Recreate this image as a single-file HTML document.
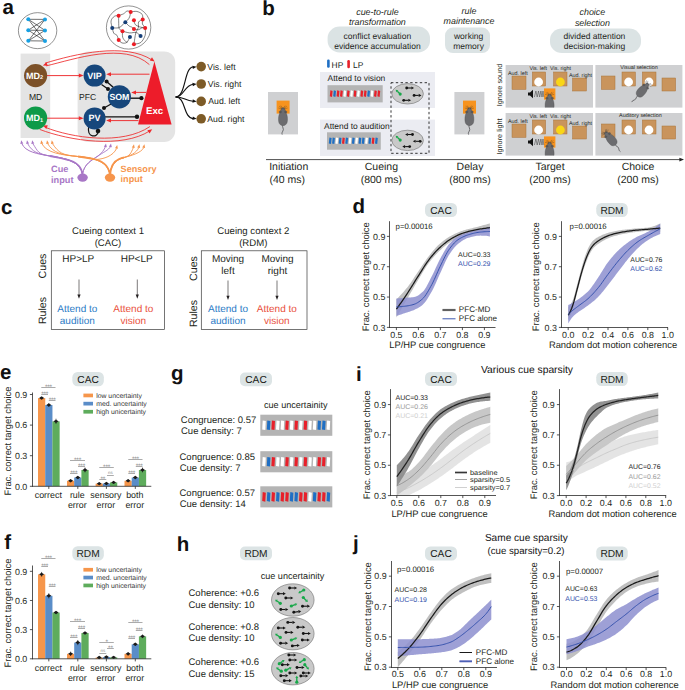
<!DOCTYPE html>
<html lang="en"><head><meta charset="utf-8"><title>Figure</title>
<style>html,body{margin:0;padding:0;background:#fff;}body{width:685px;height:690px;overflow:hidden;font-family:"Liberation Sans",sans-serif;}svg{display:block;}</style></head>
<body>
<svg width="685" height="690" viewBox="0 0 685 690" font-family='"Liberation Sans", sans-serif' text-rendering="geometricPrecision">
<rect width="685" height="690" fill="#ffffff"/>
<text x="2.50" y="14.20" font-size="20.5" fill="#111" font-weight="bold" >a</text>
<ellipse cx="37.6" cy="30.65" rx="19.2" ry="18.0" fill="#fff" stroke="#4a4a4a" stroke-width="0.6"/>
<line x1="28.30" y1="19.30" x2="45.00" y2="19.40" stroke="#111" stroke-width="0.6" />
<line x1="28.30" y1="19.30" x2="45.00" y2="30.40" stroke="#111" stroke-width="0.6" />
<line x1="28.30" y1="19.30" x2="45.00" y2="41.00" stroke="#111" stroke-width="0.6" />
<line x1="28.30" y1="30.20" x2="45.00" y2="19.40" stroke="#111" stroke-width="0.6" />
<line x1="28.30" y1="30.20" x2="45.00" y2="30.40" stroke="#111" stroke-width="0.6" />
<line x1="28.30" y1="30.20" x2="45.00" y2="41.00" stroke="#111" stroke-width="0.6" />
<line x1="28.30" y1="40.80" x2="45.00" y2="19.40" stroke="#111" stroke-width="0.6" />
<line x1="28.30" y1="40.80" x2="45.00" y2="30.40" stroke="#111" stroke-width="0.6" />
<line x1="28.30" y1="40.80" x2="45.00" y2="41.00" stroke="#111" stroke-width="0.6" />
<circle cx="28.3" cy="19.3" r="2.0" fill="#18a0e2"/>
<circle cx="28.3" cy="30.2" r="2.0" fill="#18a0e2"/>
<circle cx="28.3" cy="40.8" r="2.0" fill="#18a0e2"/>
<circle cx="45.0" cy="19.4" r="2.0" fill="#18a0e2"/>
<circle cx="45.0" cy="30.4" r="2.0" fill="#18a0e2"/>
<circle cx="45.0" cy="41.0" r="2.0" fill="#18a0e2"/>
<ellipse cx="128.6" cy="27.5" rx="22.2" ry="21.6" fill="#fff" stroke="#4a4a4a" stroke-width="0.6"/>
<path d="M112.26,27.90 C112.06,26.74 110.70,22.87 111.04,20.95 C111.38,19.02 113.05,17.24 114.31,16.35 C115.57,15.46 117.88,15.75 118.60,15.63" stroke="#1c1c1c" fill="none" stroke-width="0.55" />
<path d="M118.60,15.63 C119.42,15.33 122.09,14.56 123.50,13.80 C124.92,13.03 125.89,11.34 127.08,11.04 C128.27,10.73 130.06,11.80 130.66,11.96" stroke="#1c1c1c" fill="none" stroke-width="0.55" />
<path d="M130.66,11.96 C131.68,11.87 134.88,11.05 136.79,11.44 C138.69,11.84 141.11,12.98 142.10,14.31 C143.09,15.63 142.61,18.56 142.71,19.42" stroke="#1c1c1c" fill="none" stroke-width="0.55" />
<path d="M118.60,15.63 C118.62,16.69 118.60,19.81 118.70,21.97 C118.80,24.13 118.58,27.08 119.21,28.61 C119.84,30.15 121.94,30.74 122.48,31.17" stroke="#1c1c1c" fill="none" stroke-width="0.55" />
<path d="M112.26,27.90 C113.28,27.88 116.78,28.19 118.39,27.79 C120.01,27.40 120.81,26.48 121.97,25.55 C123.13,24.61 124.78,22.74 125.34,22.17" stroke="#1c1c1c" fill="none" stroke-width="0.55" />
<path d="M130.66,11.96 C130.49,12.77 130.11,15.53 129.63,16.86 C129.16,18.19 128.51,19.04 127.79,19.93 C127.08,20.81 125.75,21.80 125.34,22.17" stroke="#1c1c1c" fill="none" stroke-width="0.55" />
<path d="M125.34,22.17 C125.97,22.82 128.07,25.24 129.12,26.06 C130.18,26.88 130.88,26.57 131.68,27.08 C132.48,27.59 133.55,28.78 133.93,29.12" stroke="#1c1c1c" fill="none" stroke-width="0.55" />
<path d="M133.93,20.13 C134.15,20.86 134.35,23.42 135.25,24.52 C136.16,25.63 137.69,26.18 139.34,26.77 C140.99,27.37 144.20,27.88 145.17,28.10" stroke="#1c1c1c" fill="none" stroke-width="0.55" />
<path d="M142.71,19.42 C142.03,19.84 139.34,20.61 138.63,21.97 C137.91,23.33 138.87,25.89 138.42,27.59 C137.98,29.29 136.58,30.32 135.97,32.19 C135.36,34.06 135.08,36.82 134.74,38.83 C134.40,40.84 134.06,43.34 133.93,44.25" stroke="#1c1c1c" fill="none" stroke-width="0.55" />
<path d="M142.71,19.42 C142.66,20.18 142.20,22.91 142.41,24.01 C142.61,25.12 143.48,25.38 143.94,26.06 C144.40,26.74 144.96,27.76 145.17,28.10" stroke="#1c1c1c" fill="none" stroke-width="0.55" />
<path d="M145.17,28.10 C145.17,29.29 145.88,32.87 145.17,35.25 C144.45,37.64 142.75,40.91 140.87,42.41 C139.00,43.91 135.08,43.94 133.93,44.25" stroke="#1c1c1c" fill="none" stroke-width="0.55" />
<path d="M122.48,31.17 C123.67,31.46 127.33,32.68 129.63,32.90 C131.93,33.13 134.45,31.97 136.28,32.50 C138.10,33.02 139.85,35.48 140.57,36.07" stroke="#1c1c1c" fill="none" stroke-width="0.55" />
<path d="M122.48,31.17 C122.52,32.19 122.17,35.60 122.69,37.30 C123.20,39.00 124.73,40.59 125.55,41.39 C126.36,42.19 127.25,41.98 127.59,42.10" stroke="#1c1c1c" fill="none" stroke-width="0.55" />
<path d="M112.26,27.90 C112.52,28.78 113.03,31.98 113.80,33.21 C114.56,34.44 116.04,34.11 116.86,35.25 C117.68,36.40 118.39,39.26 118.70,40.06" stroke="#1c1c1c" fill="none" stroke-width="0.55" />
<path d="M118.70,40.06 C119.25,40.53 120.62,42.53 121.97,42.92 C123.32,43.31 125.44,43.40 126.77,42.41 C128.10,41.42 129.41,37.89 129.94,36.99" stroke="#1c1c1c" fill="none" stroke-width="0.55" />
<path d="M133.93,29.12 C134.74,29.21 137.50,29.86 138.83,29.63 C140.16,29.41 140.84,28.05 141.90,27.79 C142.95,27.54 144.62,28.05 145.17,28.10" stroke="#1c1c1c" fill="none" stroke-width="0.55" />
<circle cx="118.60" cy="15.63" r="2.0" fill="#ed1c24"/>
<circle cx="130.66" cy="11.96" r="2.0" fill="#ed1c24"/>
<circle cx="133.93" cy="20.13" r="2.0" fill="#ed1c24"/>
<circle cx="142.71" cy="19.42" r="2.0" fill="#ed1c24"/>
<circle cx="145.17" cy="28.10" r="2.0" fill="#ed1c24"/>
<circle cx="133.93" cy="29.12" r="2.0" fill="#ed1c24"/>
<circle cx="122.48" cy="31.17" r="2.0" fill="#ed1c24"/>
<circle cx="118.70" cy="40.06" r="2.0" fill="#ed1c24"/>
<circle cx="133.93" cy="44.25" r="2.0" fill="#ed1c24"/>
<circle cx="125.34" cy="22.17" r="2.0" fill="#163f78"/>
<circle cx="112.26" cy="27.90" r="2.0" fill="#163f78"/>
<circle cx="129.94" cy="36.99" r="2.0" fill="#163f78"/>
<circle cx="140.57" cy="36.07" r="2.0" fill="#163f78"/>
<rect x="20.6" y="53.6" width="29.6" height="84.4" fill="#e4e4e4"/>
<rect x="77.6" y="51.4" width="97.6" height="90.6" rx="11" fill="#e4e4e4"/>
<text x="35.60" y="100.00" font-size="8.6" text-anchor="middle" fill="#231f20" >MD</text>
<text x="87.60" y="100.20" font-size="8.6" text-anchor="middle" fill="#231f20" >PFC</text>
<path d="M45.0,63.2 C75,54 125,42 152.3,60.2" stroke="#ee2a2c" fill="none" stroke-width="0.85" />
<path d="M46.2,65.9 C75,59 124,41.8 149.4,64.6" stroke="#ee2a2c" fill="none" stroke-width="0.85" />
<path d="M42.80,65.60 L46.47,62.24 L47.77,65.81Z" stroke="none" fill="#ee2a2c" stroke-width="0.7" />
<path d="M154.60,61.60 L149.76,60.43 L152.00,57.36Z" stroke="none" fill="#ee2a2c" stroke-width="0.7" />
<path d="M45.0,127.2 C72,138 122,145.5 149.9,126.6" stroke="#ee2a2c" fill="none" stroke-width="0.85" />
<path d="M39.6,129.4 C70,141 122,148.5 149.6,131.0" stroke="#ee2a2c" fill="none" stroke-width="0.85" />
<path d="M42.80,125.40 L47.78,125.36 L46.35,128.88Z" stroke="none" fill="#ee2a2c" stroke-width="0.7" />
<path d="M152.20,129.20 L149.60,133.44 L147.36,130.37Z" stroke="none" fill="#ee2a2c" stroke-width="0.7" />
<line x1="47.00" y1="75.60" x2="79.30" y2="75.60" stroke="#ee2a2c" stroke-width="0.95" />
<path d="M83.60,75.60 L78.80,77.60 L78.80,73.60Z" stroke="none" fill="#ee2a2c" stroke-width="0.7" />
<line x1="47.00" y1="118.20" x2="79.30" y2="118.20" stroke="#ee2a2c" stroke-width="0.95" />
<path d="M83.60,118.20 L78.80,120.20 L78.80,116.20Z" stroke="none" fill="#ee2a2c" stroke-width="0.7" />
<line x1="149.50" y1="74.20" x2="110.50" y2="74.20" stroke="#ee2a2c" stroke-width="0.95" />
<path d="M106.20,74.20 L111.00,72.20 L111.00,76.20Z" stroke="none" fill="#ee2a2c" stroke-width="0.7" />
<line x1="146.00" y1="92.40" x2="135.50" y2="92.40" stroke="#ee2a2c" stroke-width="0.95" />
<path d="M131.20,92.40 L136.00,90.40 L136.00,94.40Z" stroke="none" fill="#ee2a2c" stroke-width="0.7" />
<line x1="138.50" y1="120.60" x2="110.50" y2="120.60" stroke="#ee2a2c" stroke-width="0.95" />
<path d="M106.20,120.60 L111.00,118.60 L111.00,122.60Z" stroke="none" fill="#ee2a2c" stroke-width="0.7" />
<line x1="129.00" y1="98.20" x2="141.00" y2="98.20" stroke="#111" stroke-width="1.35" />
<circle cx="141.4" cy="98.2" r="2.1" fill="#111"/>
<line x1="104.00" y1="116.80" x2="137.00" y2="116.80" stroke="#111" stroke-width="1.35" />
<circle cx="137.0" cy="116.8" r="2.2" fill="#111"/>
<line x1="101.50" y1="84.50" x2="108.00" y2="89.00" stroke="#111" stroke-width="1.35" />
<circle cx="108.0" cy="89.0" r="2.0" fill="#111"/>
<line x1="106.60" y1="81.40" x2="113.50" y2="87.50" stroke="#111" stroke-width="1.35" />
<circle cx="106.6" cy="81.4" r="2.0" fill="#111"/>
<line x1="112.00" y1="103.50" x2="104.00" y2="108.00" stroke="#111" stroke-width="1.35" />
<circle cx="104.0" cy="108.0" r="2.0" fill="#111"/>
<path d="M88.6,126.8 C87.0,137.8 97.2,138.2 98.4,131.6" stroke="#111" fill="none" stroke-width="1.2" />
<circle cx="98.0" cy="131.0" r="2.3" fill="#111"/>
<circle cx="35.60" cy="75.60" r="11.60" fill="#7c5128"/>
<text x="34.60" y="78.60" font-size="9.0" font-weight="bold" fill="#fff" text-anchor="middle">MD<tspan font-size="5.58" dy="0.6">2</tspan></text>
<circle cx="35.60" cy="118.00" r="11.60" fill="#0e9a48"/>
<text x="34.60" y="121.00" font-size="9.0" font-weight="bold" fill="#fff" text-anchor="middle">MD<tspan font-size="5.58" dy="0.6">1</tspan></text>
<circle cx="94.60" cy="75.60" r="11.00" fill="#17477c"/>
<text x="94.60" y="78.60" font-size="9.0" text-anchor="middle" fill="#ffffff" font-weight="bold" >VIP</text>
<circle cx="119.40" cy="96.80" r="11.60" fill="#17477c"/>
<text x="119.40" y="99.80" font-size="8.8" text-anchor="middle" fill="#ffffff" font-weight="bold" >SOM</text>
<circle cx="94.60" cy="118.40" r="11.00" fill="#17477c"/>
<text x="94.60" y="121.40" font-size="9.0" text-anchor="middle" fill="#ffffff" font-weight="bold" >PV</text>
<path d="M154.4,61.6 L171.6,124.4 L138.0,124.4Z" stroke="none" fill="#ed1c2a" stroke-width="0.7" />
<text x="154.60" y="113.60" font-size="9.7" text-anchor="middle" fill="#fff" font-weight="bold" >Exc</text>
<path d="M175.6,97 C186,97 184,67.5 193,67.0" stroke="#111" fill="none" stroke-width="1.15" />
<path d="M175.6,97 C184,97 184,85.5 193,84.2" stroke="#111" fill="none" stroke-width="1.15" />
<path d="M175.6,97 C184,97 185,100.5 193,101.2" stroke="#111" fill="none" stroke-width="1.15" />
<path d="M175.6,97 C186,97 183,117.5 193,118.6" stroke="#111" fill="none" stroke-width="1.15" />
<path d="M196.60,66.80 L192.88,69.04 L192.40,65.67Z" stroke="none" fill="#111" stroke-width="0.7" />
<path d="M196.60,84.00 L192.88,86.24 L192.40,82.87Z" stroke="none" fill="#111" stroke-width="0.7" />
<path d="M196.60,101.40 L192.44,102.67 L192.80,99.29Z" stroke="none" fill="#111" stroke-width="0.7" />
<path d="M196.60,118.80 L192.40,119.93 L192.88,116.56Z" stroke="none" fill="#111" stroke-width="0.7" />
<circle cx="201.2" cy="66.6" r="4.8" fill="#7d5b27"/>
<text x="207.30" y="69.60" font-size="8.7" fill="#231f20" >Vis. left</text>
<circle cx="201.2" cy="84.0" r="4.8" fill="#7d5b27"/>
<text x="207.80" y="87.00" font-size="8.7" fill="#231f20" >Vis. right</text>
<circle cx="201.2" cy="101.4" r="4.8" fill="#7d5b27"/>
<text x="208.30" y="104.40" font-size="8.7" fill="#231f20" >Aud. left</text>
<circle cx="201.2" cy="118.8" r="4.8" fill="#7d5b27"/>
<text x="207.30" y="121.80" font-size="8.7" fill="#231f20" >Aud. right</text>
<ellipse cx="82.6" cy="177.6" rx="5.2" ry="4.2" fill="#a877c6"/>
<ellipse cx="110.0" cy="177.6" rx="5.2" ry="4.2" fill="#f6954c"/>
<path d="M82.6,174 C80,160 62,158 50,156 C38,154 25.2,152 21.8,143.5" stroke="#a877c6" fill="none" stroke-width="1.0" />
<path d="M21.20,140.20 L23.30,143.48 L20.35,144.01Z" stroke="none" fill="#a877c6" stroke-width="0.7" />
<path d="M82.6,174 C80,160 62,158 50,156 C38,154 32.0,152 27.6,143.5" stroke="#a877c6" fill="none" stroke-width="0.9" />
<path d="M27.00,140.20 L29.10,143.48 L26.15,144.01Z" stroke="none" fill="#a877c6" stroke-width="0.7" />
<path d="M82.6,174 C80,160 62,158 50,156 C38,154 38.2,152 32.8,143.5" stroke="#a877c6" fill="none" stroke-width="0.9" />
<path d="M32.20,140.20 L34.30,143.48 L31.35,144.01Z" stroke="none" fill="#a877c6" stroke-width="0.7" />
<path d="M82.6,176 C82.2,168 78,163 70,160.5 C64,158.6 56,157.4 50,156" stroke="#a877c6" fill="none" stroke-width="1.8" />
<path d="M82.6,174 C84,164 92,160 98,156 C102,153 104.0,150 105.5,146.5" stroke="#a877c6" fill="none" stroke-width="0.9" />
<path d="M106.00,143.40 L106.85,147.21 L103.90,146.68Z" stroke="none" fill="#a877c6" stroke-width="0.7" />
<path d="M82.6,174 C84,164 92,160 98,156 C102,153 109.0,150 110.5,146.5" stroke="#a877c6" fill="none" stroke-width="0.9" />
<path d="M111.00,143.40 L111.85,147.21 L108.90,146.68Z" stroke="none" fill="#a877c6" stroke-width="0.7" />
<path d="M110,174 C107,160 92,158 78,156.5 C62,155 46.2,153 41.8,143.5" stroke="#f6954c" fill="none" stroke-width="0.9" />
<path d="M41.20,140.20 L43.30,143.48 L40.35,144.01Z" stroke="none" fill="#f6954c" stroke-width="0.7" />
<path d="M110,174 C107,160 92,158 78,156.5 C62,155 53.0,153 47.6,143.5" stroke="#f6954c" fill="none" stroke-width="0.9" />
<path d="M47.00,140.20 L49.10,143.48 L46.15,144.01Z" stroke="none" fill="#f6954c" stroke-width="0.7" />
<path d="M110,174 C107,160 92,158 78,156.5 C62,155 58.8,153 52.4,143.5" stroke="#f6954c" fill="none" stroke-width="0.9" />
<path d="M51.80,140.20 L53.90,143.48 L50.95,144.01Z" stroke="none" fill="#f6954c" stroke-width="0.7" />
<path d="M110,176 C109.4,168 105,162 96,159.5 C90,158 84,157.2 78,156.5" stroke="#f6954c" fill="none" stroke-width="1.8" />
<path d="M96,159.5 C104,159 113,156 116.6,148.5" stroke="#f6954c" fill="none" stroke-width="0.9" />
<path d="M117.20,145.00 L117.92,148.83 L114.98,148.21Z" stroke="none" fill="#f6954c" stroke-width="0.7" />
<path d="M110,174 C111,163 118,159 124,157.5 C130,156 131.0,153 133.4,147.5" stroke="#f6954c" fill="none" stroke-width="0.9" />
<path d="M134.00,144.20 L134.72,148.03 L131.78,147.41Z" stroke="none" fill="#f6954c" stroke-width="0.7" />
<path d="M110,174 C111,163 118,159 124,157.5 C130,156 136.4,153 138.8,147.5" stroke="#f6954c" fill="none" stroke-width="0.9" />
<path d="M139.40,144.20 L140.12,148.03 L137.18,147.41Z" stroke="none" fill="#f6954c" stroke-width="0.7" />
<path d="M110,174 C111,163 118,159 124,157.5 C130,156 141.4,153 143.8,147.5" stroke="#f6954c" fill="none" stroke-width="0.9" />
<path d="M144.40,144.20 L145.12,148.03 L142.18,147.41Z" stroke="none" fill="#f6954c" stroke-width="0.7" />
<path d="M110,176 C110.4,168 113,161.5 119,159 C121,158.2 122.5,157.8 124,157.5" stroke="#f6954c" fill="none" stroke-width="1.8" />
<text x="51.00" y="172.40" font-size="9.2" fill="#a877c6" font-weight="bold" >Cue</text>
<text x="51.00" y="183.20" font-size="9.2" fill="#a877c6" font-weight="bold" >input</text>
<text x="120.60" y="171.60" font-size="9.1" fill="#f6954c" font-weight="bold" >Sensory</text>
<text x="120.60" y="182.20" font-size="9.1" fill="#f6954c" font-weight="bold" >input</text>
<text x="262.20" y="15.00" font-size="20.5" fill="#111" font-weight="bold" >b</text>
<text x="377.40" y="14.50" font-size="8.9" text-anchor="middle" fill="#231f20" font-style="italic" >cue-to-rule</text>
<text x="377.40" y="25.10" font-size="8.9" text-anchor="middle" fill="#231f20" font-style="italic" >transformation</text>
<text x="469.00" y="13.70" font-size="8.9" text-anchor="middle" fill="#231f20" font-style="italic" >rule</text>
<text x="469.00" y="24.10" font-size="8.9" text-anchor="middle" fill="#231f20" font-style="italic" >maintenance</text>
<text x="592.40" y="14.70" font-size="8.9" text-anchor="middle" fill="#231f20" font-style="italic" >choice</text>
<text x="592.40" y="25.50" font-size="8.9" text-anchor="middle" fill="#231f20" font-style="italic" >selection</text>
<rect x="327.6" y="26.6" width="102.4" height="25.8" rx="12" ry="11.5" fill="#dbe3e4"/>
<rect x="445.0" y="27.6" width="45.0" height="25.4" rx="8" fill="#dbe3e4"/>
<rect x="550.0" y="28.6" width="91.0" height="24.4" rx="12" ry="11" fill="#dbe3e4"/>
<text x="377.40" y="38.50" font-size="8.5" text-anchor="middle" fill="#231f20" >conflict evaluation</text>
<text x="377.40" y="48.70" font-size="8.5" text-anchor="middle" fill="#231f20" >evidence accumulation</text>
<text x="468.60" y="38.70" font-size="8.5" text-anchor="middle" fill="#231f20" >working</text>
<text x="468.60" y="49.10" font-size="8.5" text-anchor="middle" fill="#231f20" >memory</text>
<text x="594.40" y="39.10" font-size="8.5" text-anchor="middle" fill="#231f20" >divided attention</text>
<text x="594.40" y="49.10" font-size="8.5" text-anchor="middle" fill="#231f20" >decision-making</text>
<rect x="327.1" y="59.6" width="2.6" height="8.2" rx="1.2" fill="#1f6fc4"/>
<text x="331.60" y="67.70" font-size="8.4" fill="#231f20" >HP</text>
<rect x="347.3" y="60.0" width="2.6" height="8.2" rx="1.2" fill="#e8202a"/>
<text x="353.00" y="67.70" font-size="8.4" fill="#231f20" >LP</text>
<rect x="320.0" y="72.0" width="115.0" height="36.0" fill="#ebecf2"/>
<rect x="320.0" y="119.6" width="115.0" height="36.4" fill="#ebecf2"/>
<text x="327.60" y="81.10" font-size="8.45" fill="#231f20" >Attend to vision</text>
<text x="324.00" y="128.50" font-size="8.45" fill="#231f20" >Attend to audition</text>
<rect x="327.5" y="85.2" width="55.2" height="17.2" fill="#b4b4b4"/>
<rect x="327.0" y="132.3" width="53.8" height="17.4" fill="#b4b4b4"/>
<path d="M330.40,90.30 L332.60,90.90 L332.00,96.90 L329.80,96.30Z" fill="#e8202a"/>
<path d="M333.80,90.30 L336.00,90.90 L335.40,96.90 L333.20,96.30Z" fill="#1f6fc4"/>
<path d="M337.20,90.30 L339.40,90.90 L338.80,96.90 L336.60,96.30Z" fill="#e8202a"/>
<path d="M340.60,90.30 L342.80,90.90 L342.20,96.90 L340.00,96.30Z" fill="#e8202a"/>
<path d="M344.00,90.30 L346.20,90.90 L345.60,96.90 L343.40,96.30Z" fill="#ffffff"/>
<path d="M347.40,90.30 L349.60,90.90 L349.00,96.90 L346.80,96.30Z" fill="#e8202a"/>
<path d="M350.80,90.30 L353.00,90.90 L352.40,96.90 L350.20,96.30Z" fill="#ffffff"/>
<path d="M354.20,90.30 L356.40,90.90 L355.80,96.90 L353.60,96.30Z" fill="#e8202a"/>
<path d="M357.60,90.30 L359.80,90.90 L359.20,96.90 L357.00,96.30Z" fill="#ffffff"/>
<path d="M361.00,90.30 L363.20,90.90 L362.60,96.90 L360.40,96.30Z" fill="#e8202a"/>
<path d="M364.40,90.30 L366.60,90.90 L366.00,96.90 L363.80,96.30Z" fill="#e8202a"/>
<path d="M367.80,90.30 L370.00,90.90 L369.40,96.90 L367.20,96.30Z" fill="#1f6fc4"/>
<path d="M371.20,90.30 L373.40,90.90 L372.80,96.90 L370.60,96.30Z" fill="#ffffff"/>
<path d="M374.60,90.30 L376.80,90.90 L376.20,96.90 L374.00,96.30Z" fill="#e8202a"/>
<path d="M378.00,90.30 L380.20,90.90 L379.60,96.90 L377.40,96.30Z" fill="#e8202a"/>
<path d="M329.40,137.50 L331.60,138.10 L331.00,144.10 L328.80,143.50Z" fill="#1f6fc4"/>
<path d="M332.70,137.50 L334.90,138.10 L334.30,144.10 L332.10,143.50Z" fill="#1f6fc4"/>
<path d="M336.00,137.50 L338.20,138.10 L337.60,144.10 L335.40,143.50Z" fill="#ffffff"/>
<path d="M339.30,137.50 L341.50,138.10 L340.90,144.10 L338.70,143.50Z" fill="#1f6fc4"/>
<path d="M342.60,137.50 L344.80,138.10 L344.20,144.10 L342.00,143.50Z" fill="#e8202a"/>
<path d="M345.90,137.50 L348.10,138.10 L347.50,144.10 L345.30,143.50Z" fill="#1f6fc4"/>
<path d="M349.20,137.50 L351.40,138.10 L350.80,144.10 L348.60,143.50Z" fill="#ffffff"/>
<path d="M352.50,137.50 L354.70,138.10 L354.10,144.10 L351.90,143.50Z" fill="#1f6fc4"/>
<path d="M355.80,137.50 L358.00,138.10 L357.40,144.10 L355.20,143.50Z" fill="#ffffff"/>
<path d="M359.10,137.50 L361.30,138.10 L360.70,144.10 L358.50,143.50Z" fill="#1f6fc4"/>
<path d="M362.40,137.50 L364.60,138.10 L364.00,144.10 L361.80,143.50Z" fill="#1f6fc4"/>
<path d="M365.70,137.50 L367.90,138.10 L367.30,144.10 L365.10,143.50Z" fill="#ffffff"/>
<path d="M369.00,137.50 L371.20,138.10 L370.60,144.10 L368.40,143.50Z" fill="#1f6fc4"/>
<path d="M372.30,137.50 L374.50,138.10 L373.90,144.10 L371.70,143.50Z" fill="#e8202a"/>
<path d="M375.60,137.50 L377.80,138.10 L377.20,144.10 L375.00,143.50Z" fill="#1f6fc4"/>
<rect x="391.0" y="82.7" width="38.0" height="70.6" fill="none" stroke="#111" stroke-width="0.85" stroke-dasharray="2.4 2.4"/>
<ellipse cx="407.60" cy="93.80" rx="15.80" ry="10.20" fill="#c9c9c9" stroke="#6e6e6e" stroke-width="0.6"/>
<circle cx="406.70" cy="88.00" r="1.421" fill="#151515"/>
<line x1="406.70" y1="88.00" x2="411.31" y2="88.00" stroke="#151515" stroke-width="1.078" />
<path d="M414.05,88.00 L411.31,89.57 L411.31,86.43Z" stroke="none" fill="#151515" stroke-width="0.7" />
<circle cx="414.10" cy="95.40" r="1.421" fill="#151515"/>
<line x1="414.10" y1="95.40" x2="418.71" y2="95.40" stroke="#151515" stroke-width="1.078" />
<path d="M421.45,95.40 L418.71,96.97 L418.71,93.83Z" stroke="none" fill="#151515" stroke-width="0.7" />
<circle cx="403.70" cy="100.30" r="1.421" fill="#151515"/>
<line x1="403.70" y1="100.30" x2="408.31" y2="100.30" stroke="#151515" stroke-width="1.078" />
<path d="M411.05,100.30 L408.31,101.87 L408.31,98.73Z" stroke="none" fill="#151515" stroke-width="0.7" />
<circle cx="400.20" cy="94.10" r="1.568" fill="#19a84a"/>
<line x1="400.20" y1="94.10" x2="397.31" y2="91.31" stroke="#19a84a" stroke-width="1.323" />
<path d="M395.69,89.74 L398.33,90.25 L396.29,92.37Z" stroke="none" fill="#19a84a" stroke-width="0.7" />
<ellipse cx="407.60" cy="140.40" rx="15.80" ry="10.20" fill="#c9c9c9" stroke="#6e6e6e" stroke-width="0.6"/>
<circle cx="412.50" cy="134.50" r="1.421" fill="#151515"/>
<line x1="412.50" y1="134.50" x2="407.89" y2="134.50" stroke="#151515" stroke-width="1.078" />
<path d="M405.15,134.50 L407.89,132.93 L407.89,136.07Z" stroke="none" fill="#151515" stroke-width="0.7" />
<circle cx="420.20" cy="141.30" r="1.421" fill="#151515"/>
<line x1="420.20" y1="141.30" x2="415.59" y2="141.30" stroke="#151515" stroke-width="1.078" />
<path d="M412.85,141.30 L415.59,139.73 L415.59,142.87Z" stroke="none" fill="#151515" stroke-width="0.7" />
<circle cx="409.70" cy="146.60" r="1.421" fill="#151515"/>
<line x1="409.70" y1="146.60" x2="405.09" y2="146.60" stroke="#151515" stroke-width="1.078" />
<path d="M402.35,146.60 L405.09,145.03 L405.09,148.17Z" stroke="none" fill="#151515" stroke-width="0.7" />
<circle cx="400.20" cy="140.10" r="1.568" fill="#19a84a"/>
<line x1="400.20" y1="140.10" x2="397.31" y2="137.31" stroke="#19a84a" stroke-width="1.323" />
<path d="M395.69,135.74 L398.33,136.25 L396.29,138.37Z" stroke="none" fill="#19a84a" stroke-width="0.7" />
<rect x="268.00" y="92.0" width="30.0" height="42.4" fill="#cfd0d2"/>
<rect x="276.60" y="100.6" width="13.0" height="13.0" fill="#f7931e"/>
<g transform="translate(283.00 118.20) rotate(0) scale(1.0)">
<path d="M0,6.5 C-1.6,9 1.6,10.5 -0.2,13 C-1,14.2 -1.3,15.2 -0.8,16.4" stroke="#4a4a4c" stroke-width="0.75" fill="none"/>
<path d="M0,-10.6 C1.6,-10.4 2.4,-8 3.0,-5.6 C4.6,-3 4.8,1.5 4.2,4 C3.6,6.4 1.8,7.4 0,7.4 C-1.8,7.4 -3.6,6.4 -4.2,4 C-4.8,1.5 -4.6,-3 -3.0,-5.6 C-2.4,-8 -1.6,-10.4 0,-10.6Z" fill="#6c6c6f" stroke="#4a4a4c" stroke-width="0.35"/>
<ellipse cx="-2.7" cy="-6.3" rx="1.25" ry="1.0" fill="#5a5a5c" stroke="#4a4a4c" stroke-width="0.3"/><ellipse cx="2.7" cy="-6.3" rx="1.25" ry="1.0" fill="#5a5a5c" stroke="#4a4a4c" stroke-width="0.3"/>
<path d="M-0.7,-9.6 L-3.8,-12.0 M0.7,-9.6 L3.8,-12.0 M-0.9,-9.2 L-4.6,-10.2 M0.9,-9.2 L4.6,-10.2 M-0.5,-9.9 L-2.2,-12.6 M0.5,-9.9 L2.2,-12.6" stroke="#2a2a2a" stroke-width="0.3" fill="none"/>
</g>
<rect x="454.40" y="92.0" width="30.0" height="42.4" fill="#cfd0d2"/>
<rect x="463.00" y="100.6" width="13.0" height="13.0" fill="#f7931e"/>
<g transform="translate(469.40 118.20) rotate(0) scale(1.0)">
<path d="M0,6.5 C-1.6,9 1.6,10.5 -0.2,13 C-1,14.2 -1.3,15.2 -0.8,16.4" stroke="#4a4a4c" stroke-width="0.75" fill="none"/>
<path d="M0,-10.6 C1.6,-10.4 2.4,-8 3.0,-5.6 C4.6,-3 4.8,1.5 4.2,4 C3.6,6.4 1.8,7.4 0,7.4 C-1.8,7.4 -3.6,6.4 -4.2,4 C-4.8,1.5 -4.6,-3 -3.0,-5.6 C-2.4,-8 -1.6,-10.4 0,-10.6Z" fill="#6c6c6f" stroke="#4a4a4c" stroke-width="0.35"/>
<ellipse cx="-2.7" cy="-6.3" rx="1.25" ry="1.0" fill="#5a5a5c" stroke="#4a4a4c" stroke-width="0.3"/><ellipse cx="2.7" cy="-6.3" rx="1.25" ry="1.0" fill="#5a5a5c" stroke="#4a4a4c" stroke-width="0.3"/>
<path d="M-0.7,-9.6 L-3.8,-12.0 M0.7,-9.6 L3.8,-12.0 M-0.9,-9.2 L-4.6,-10.2 M0.9,-9.2 L4.6,-10.2 M-0.5,-9.9 L-2.2,-12.6 M0.5,-9.9 L2.2,-12.6" stroke="#2a2a2a" stroke-width="0.3" fill="none"/>
</g>
<rect x="505.6" y="65.00" width="87.4" height="42.6" fill="#cfd0d2"/>
<clipPath id="tp65"><rect x="505.6" y="65.00" width="87.4" height="42.6"/></clipPath>
<rect x="512.00" y="76.00" width="14.00" height="13.40" fill="#c9945c" stroke="#a9733a" stroke-width="0.5"/>
<rect x="532.40" y="72.00" width="13.20" height="14.00" fill="#c9945c" stroke="#a9733a" stroke-width="0.5"/>
<rect x="553.60" y="72.00" width="13.40" height="14.00" fill="#c9945c" stroke="#a9733a" stroke-width="0.5"/>
<rect x="572.60" y="78.00" width="13.80" height="13.00" fill="#c9945c" stroke="#a9733a" stroke-width="0.5"/>
<circle cx="538.6" cy="82.00" r="4.4" fill="#fff"/>
<circle cx="560.4" cy="82.00" r="4.4" fill="#f9d616"/>
<rect x="544.0" y="88.40" width="11.4" height="11.2" fill="#f7931e"/>
<path d="M528.00,92.40 L530.00,92.40 L533.00,89.80 L533.00,98.20 L530.00,95.60 L528.00,95.60Z" stroke="none" fill="#111" stroke-width="0.7" />
<path d="M534.40,97.00 L535.90,91.00 L537.20,97.00 L538.50,91.00 L539.70,97.00 L540.90,91.00 L542.00,97.00 L543.00,91.00 L543.80,97.00" stroke="#3a3a3a" fill="none" stroke-width="0.5" />
<g clip-path="url(#tp65)">
<g transform="translate(549.60 104.50) rotate(0) scale(1.0)">
<path d="M0,6.5 C-1.6,9 1.6,10.5 -0.2,13 C-1,14.2 -1.3,15.2 -0.8,16.4" stroke="#4a4a4c" stroke-width="0.75" fill="none"/>
<path d="M0,-10.6 C1.6,-10.4 2.4,-8 3.0,-5.6 C4.6,-3 4.8,1.5 4.2,4 C3.6,6.4 1.8,7.4 0,7.4 C-1.8,7.4 -3.6,6.4 -4.2,4 C-4.8,1.5 -4.6,-3 -3.0,-5.6 C-2.4,-8 -1.6,-10.4 0,-10.6Z" fill="#6c6c6f" stroke="#4a4a4c" stroke-width="0.35"/>
<ellipse cx="-2.7" cy="-6.3" rx="1.25" ry="1.0" fill="#5a5a5c" stroke="#4a4a4c" stroke-width="0.3"/><ellipse cx="2.7" cy="-6.3" rx="1.25" ry="1.0" fill="#5a5a5c" stroke="#4a4a4c" stroke-width="0.3"/>
<path d="M-0.7,-9.6 L-3.8,-12.0 M0.7,-9.6 L3.8,-12.0 M-0.9,-9.2 L-4.6,-10.2 M0.9,-9.2 L4.6,-10.2 M-0.5,-9.9 L-2.2,-12.6 M0.5,-9.9 L2.2,-12.6" stroke="#2a2a2a" stroke-width="0.3" fill="none"/>
</g>
</g>
<text x="508.00" y="74.60" font-size="5.4" fill="#231f20" >Aud. left</text>
<text x="529.40" y="70.00" font-size="5.4" fill="#231f20" >Vis. left</text>
<text x="550.00" y="70.00" font-size="5.4" fill="#231f20" >Vis. right</text>
<text x="569.00" y="76.60" font-size="5.4" fill="#231f20" >Aud. right</text>
<text x="502.40" y="85.00" font-size="7.3" text-anchor="middle" fill="#231f20" transform="rotate(-90 502.40 85.00)" >Ignore sound</text>
<rect x="505.6" y="113.00" width="87.4" height="42.6" fill="#cfd0d2"/>
<clipPath id="tp113"><rect x="505.6" y="113.00" width="87.4" height="42.6"/></clipPath>
<rect x="512.00" y="124.00" width="14.00" height="13.40" fill="#c9945c" stroke="#a9733a" stroke-width="0.5"/>
<rect x="532.40" y="120.00" width="13.20" height="14.00" fill="#c9945c" stroke="#a9733a" stroke-width="0.5"/>
<rect x="553.60" y="120.00" width="13.40" height="14.00" fill="#c9945c" stroke="#a9733a" stroke-width="0.5"/>
<rect x="572.60" y="126.00" width="13.80" height="13.00" fill="#c9945c" stroke="#a9733a" stroke-width="0.5"/>
<circle cx="538.6" cy="130.00" r="4.4" fill="#fff"/>
<circle cx="560.4" cy="130.00" r="4.4" fill="#f9d616"/>
<rect x="544.0" y="136.40" width="11.4" height="11.2" fill="#f7931e"/>
<path d="M528.00,140.40 L530.00,140.40 L533.00,137.80 L533.00,146.20 L530.00,143.60 L528.00,143.60Z" stroke="none" fill="#111" stroke-width="0.7" />
<path d="M534.40,145.00 L535.90,139.00 L537.20,145.00 L538.50,139.00 L539.70,145.00 L540.90,139.00 L542.00,145.00 L543.00,139.00 L543.80,145.00" stroke="#3a3a3a" fill="none" stroke-width="0.5" />
<g clip-path="url(#tp113)">
<g transform="translate(549.60 152.50) rotate(0) scale(1.0)">
<path d="M0,6.5 C-1.6,9 1.6,10.5 -0.2,13 C-1,14.2 -1.3,15.2 -0.8,16.4" stroke="#4a4a4c" stroke-width="0.75" fill="none"/>
<path d="M0,-10.6 C1.6,-10.4 2.4,-8 3.0,-5.6 C4.6,-3 4.8,1.5 4.2,4 C3.6,6.4 1.8,7.4 0,7.4 C-1.8,7.4 -3.6,6.4 -4.2,4 C-4.8,1.5 -4.6,-3 -3.0,-5.6 C-2.4,-8 -1.6,-10.4 0,-10.6Z" fill="#6c6c6f" stroke="#4a4a4c" stroke-width="0.35"/>
<ellipse cx="-2.7" cy="-6.3" rx="1.25" ry="1.0" fill="#5a5a5c" stroke="#4a4a4c" stroke-width="0.3"/><ellipse cx="2.7" cy="-6.3" rx="1.25" ry="1.0" fill="#5a5a5c" stroke="#4a4a4c" stroke-width="0.3"/>
<path d="M-0.7,-9.6 L-3.8,-12.0 M0.7,-9.6 L3.8,-12.0 M-0.9,-9.2 L-4.6,-10.2 M0.9,-9.2 L4.6,-10.2 M-0.5,-9.9 L-2.2,-12.6 M0.5,-9.9 L2.2,-12.6" stroke="#2a2a2a" stroke-width="0.3" fill="none"/>
</g>
</g>
<text x="508.00" y="122.60" font-size="5.4" fill="#231f20" >Aud. left</text>
<text x="529.40" y="118.00" font-size="5.4" fill="#231f20" >Vis. left</text>
<text x="550.00" y="118.00" font-size="5.4" fill="#231f20" >Vis. right</text>
<text x="569.00" y="124.60" font-size="5.4" fill="#231f20" >Aud. right</text>
<text x="502.40" y="136.50" font-size="7.3" text-anchor="middle" fill="#231f20" transform="rotate(-90 502.40 136.50)" >Ignore light</text>
<rect x="595.4" y="65.00" width="87.0" height="42.6" fill="#cfd0d2"/>
<rect x="601.40" y="76.00" width="13.60" height="13.40" fill="#c9945c" stroke="#a9733a" stroke-width="0.5"/>
<rect x="622.00" y="72.00" width="13.40" height="14.00" fill="#c9945c" stroke="#a9733a" stroke-width="0.5"/>
<rect x="642.40" y="72.00" width="13.60" height="14.00" fill="#c9945c" stroke="#a9733a" stroke-width="0.5"/>
<rect x="662.00" y="78.00" width="13.60" height="13.00" fill="#c9945c" stroke="#a9733a" stroke-width="0.5"/>
<circle cx="628.6" cy="82.00" r="4.4" fill="#fff"/>
<circle cx="649.0" cy="82.00" r="4.4" fill="#fff"/>
<g transform="translate(642.00 91.00) rotate(40) scale(0.92)">
<path d="M0,6.5 C-1.6,9 1.6,10.5 -0.2,13 C-1,14.2 -1.3,15.2 -0.8,16.4" stroke="#4a4a4c" stroke-width="0.75" fill="none"/>
<path d="M0,-10.6 C1.6,-10.4 2.4,-8 3.0,-5.6 C4.6,-3 4.8,1.5 4.2,4 C3.6,6.4 1.8,7.4 0,7.4 C-1.8,7.4 -3.6,6.4 -4.2,4 C-4.8,1.5 -4.6,-3 -3.0,-5.6 C-2.4,-8 -1.6,-10.4 0,-10.6Z" fill="#6c6c6f" stroke="#4a4a4c" stroke-width="0.35"/>
<ellipse cx="-2.7" cy="-6.3" rx="1.25" ry="1.0" fill="#5a5a5c" stroke="#4a4a4c" stroke-width="0.3"/><ellipse cx="2.7" cy="-6.3" rx="1.25" ry="1.0" fill="#5a5a5c" stroke="#4a4a4c" stroke-width="0.3"/>
<path d="M-0.7,-9.6 L-3.8,-12.0 M0.7,-9.6 L3.8,-12.0 M-0.9,-9.2 L-4.6,-10.2 M0.9,-9.2 L4.6,-10.2 M-0.5,-9.9 L-2.2,-12.6 M0.5,-9.9 L2.2,-12.6" stroke="#2a2a2a" stroke-width="0.3" fill="none"/>
</g>
<text x="639.00" y="69.10" font-size="5.4" text-anchor="middle" fill="#231f20" >Visual selection</text>
<rect x="595.4" y="113.00" width="87.0" height="42.6" fill="#cfd0d2"/>
<rect x="601.40" y="124.00" width="13.60" height="13.40" fill="#c9945c" stroke="#a9733a" stroke-width="0.5"/>
<rect x="622.00" y="120.00" width="13.40" height="14.00" fill="#c9945c" stroke="#a9733a" stroke-width="0.5"/>
<rect x="642.40" y="120.00" width="13.60" height="14.00" fill="#c9945c" stroke="#a9733a" stroke-width="0.5"/>
<rect x="662.00" y="126.00" width="13.60" height="13.00" fill="#c9945c" stroke="#a9733a" stroke-width="0.5"/>
<circle cx="628.6" cy="130.00" r="4.4" fill="#fff"/>
<circle cx="649.0" cy="130.00" r="4.4" fill="#fff"/>
<g transform="translate(611.30 139.60) rotate(-40) scale(0.92)">
<path d="M0,6.5 C-1.6,9 1.6,10.5 -0.2,13 C-1,14.2 -1.3,15.2 -0.8,16.4" stroke="#4a4a4c" stroke-width="0.75" fill="none"/>
<path d="M0,-10.6 C1.6,-10.4 2.4,-8 3.0,-5.6 C4.6,-3 4.8,1.5 4.2,4 C3.6,6.4 1.8,7.4 0,7.4 C-1.8,7.4 -3.6,6.4 -4.2,4 C-4.8,1.5 -4.6,-3 -3.0,-5.6 C-2.4,-8 -1.6,-10.4 0,-10.6Z" fill="#6c6c6f" stroke="#4a4a4c" stroke-width="0.35"/>
<ellipse cx="-2.7" cy="-6.3" rx="1.25" ry="1.0" fill="#5a5a5c" stroke="#4a4a4c" stroke-width="0.3"/><ellipse cx="2.7" cy="-6.3" rx="1.25" ry="1.0" fill="#5a5a5c" stroke="#4a4a4c" stroke-width="0.3"/>
<path d="M-0.7,-9.6 L-3.8,-12.0 M0.7,-9.6 L3.8,-12.0 M-0.9,-9.2 L-4.6,-10.2 M0.9,-9.2 L4.6,-10.2 M-0.5,-9.9 L-2.2,-12.6 M0.5,-9.9 L2.2,-12.6" stroke="#2a2a2a" stroke-width="0.3" fill="none"/>
</g>
<text x="640.40" y="117.10" font-size="5.4" text-anchor="middle" fill="#231f20" >Auditory selection</text>
<line x1="266.00" y1="159.60" x2="680.50" y2="159.60" stroke="#222" stroke-width="0.8" />
<path d="M684.00,159.60 L679.40,161.50 L679.40,157.70Z" stroke="none" fill="#222" stroke-width="0.7" />
<text x="288.70" y="170.30" font-size="10.5" text-anchor="middle" fill="#231f20" >Initiation</text>
<text x="287.20" y="182.90" font-size="10.5" text-anchor="middle" fill="#231f20" >(40 ms)</text>
<text x="381.40" y="170.30" font-size="10.5" text-anchor="middle" fill="#231f20" >Cueing</text>
<text x="381.40" y="182.90" font-size="10.5" text-anchor="middle" fill="#231f20" >(800 ms)</text>
<text x="470.00" y="170.30" font-size="10.5" text-anchor="middle" fill="#231f20" >Delay</text>
<text x="470.00" y="182.90" font-size="10.5" text-anchor="middle" fill="#231f20" >(800 ms)</text>
<text x="550.00" y="170.30" font-size="10.5" text-anchor="middle" fill="#231f20" >Target</text>
<text x="550.00" y="182.90" font-size="10.5" text-anchor="middle" fill="#231f20" >(200 ms)</text>
<text x="638.00" y="170.30" font-size="10.5" text-anchor="middle" fill="#231f20" >Choice</text>
<text x="638.00" y="182.90" font-size="10.5" text-anchor="middle" fill="#231f20" >(200 ms)</text>
<text x="1.00" y="214.00" font-size="20.5" fill="#111" font-weight="bold" >c</text>
<rect x="51.3" y="250.8" width="113.2" height="78.7" fill="none" stroke="#3a3a3a" stroke-width="0.7"/>
<rect x="201.3" y="250.8" width="105.7" height="78.7" fill="none" stroke="#3a3a3a" stroke-width="0.7"/>
<text x="108.00" y="233.90" font-size="9.6" text-anchor="middle" fill="#231f20" >Cueing context 1</text>
<text x="108.00" y="245.90" font-size="9.6" text-anchor="middle" fill="#231f20" >(CAC)</text>
<text x="253.30" y="233.90" font-size="9.6" text-anchor="middle" fill="#231f20" >Cueing context 2</text>
<text x="253.30" y="245.90" font-size="9.6" text-anchor="middle" fill="#231f20" >(RDM)</text>
<text x="78.30" y="262.20" font-size="10.0" text-anchor="middle" fill="#231f20" >HP&gt;LP</text>
<text x="136.70" y="262.20" font-size="10.0" text-anchor="middle" fill="#231f20" >HP&lt;LP</text>
<line x1="79.00" y1="279.50" x2="79.00" y2="295.10" stroke="#231f20" stroke-width="0.6" />
<path d="M77.40,294.60 L80.60,294.60 L79.00,298.80Z" stroke="none" fill="#231f20" stroke-width="0.7" />
<line x1="137.30" y1="279.50" x2="137.30" y2="295.10" stroke="#231f20" stroke-width="0.6" />
<path d="M135.70,294.60 L138.90,294.60 L137.30,298.80Z" stroke="none" fill="#231f20" stroke-width="0.7" />
<text x="77.30" y="311.90" font-size="10.0" text-anchor="middle" fill="#2b7bc6" >Attend to</text>
<text x="77.30" y="323.90" font-size="10.0" text-anchor="middle" fill="#2b7bc6" >audition</text>
<text x="133.30" y="311.90" font-size="10.0" text-anchor="middle" fill="#e9503c" >Attend to</text>
<text x="133.30" y="323.90" font-size="10.0" text-anchor="middle" fill="#e9503c" >vision</text>
<text x="46.30" y="266.00" font-size="10.6" text-anchor="middle" fill="#231f20" transform="rotate(-90 46.30 266.00)" >Cues</text>
<text x="46.30" y="310.50" font-size="10.6" text-anchor="middle" fill="#231f20" transform="rotate(-90 46.30 310.50)" >Rules</text>
<text x="228.00" y="262.20" font-size="10.0" text-anchor="middle" fill="#231f20" >Moving</text>
<text x="228.00" y="274.00" font-size="10.0" text-anchor="middle" fill="#231f20" >left</text>
<text x="277.50" y="262.20" font-size="10.0" text-anchor="middle" fill="#231f20" >Moving</text>
<text x="277.50" y="274.00" font-size="10.0" text-anchor="middle" fill="#231f20" >right</text>
<line x1="228.00" y1="280.50" x2="228.00" y2="296.30" stroke="#231f20" stroke-width="0.6" />
<path d="M226.40,295.80 L229.60,295.80 L228.00,300.00Z" stroke="none" fill="#231f20" stroke-width="0.7" />
<line x1="277.00" y1="280.50" x2="277.00" y2="296.30" stroke="#231f20" stroke-width="0.6" />
<path d="M275.40,295.80 L278.60,295.80 L277.00,300.00Z" stroke="none" fill="#231f20" stroke-width="0.7" />
<text x="228.00" y="311.90" font-size="10.0" text-anchor="middle" fill="#2b7bc6" >Attend to</text>
<text x="228.00" y="323.90" font-size="10.0" text-anchor="middle" fill="#2b7bc6" >audition</text>
<text x="276.80" y="311.90" font-size="10.0" text-anchor="middle" fill="#e9503c" >Attend to</text>
<text x="276.80" y="323.90" font-size="10.0" text-anchor="middle" fill="#e9503c" >vision</text>
<text x="197.00" y="268.50" font-size="10.6" text-anchor="middle" fill="#231f20" transform="rotate(-90 197.00 268.50)" >Cues</text>
<text x="197.00" y="313.50" font-size="10.6" text-anchor="middle" fill="#231f20" transform="rotate(-90 197.00 313.50)" >Rules</text>
<text x="352.50" y="213.30" font-size="20.5" fill="#111" font-weight="bold" >d</text>
<rect x="425.00" y="203.00" width="32.00" height="14.00" rx="5.2" fill="#dce4e5"/>
<text x="441.00" y="213.67" font-size="10.2" text-anchor="middle" fill="#231f20" >CAC</text>
<rect x="596.25" y="203.00" width="31.50" height="14.00" rx="5.2" fill="#dce4e5"/>
<text x="612.00" y="213.67" font-size="10.2" text-anchor="middle" fill="#231f20" >RDM</text>
<clipPath id="pc1"><rect x="389.50" y="221.20" width="106.00" height="106.30"/></clipPath>
<g clip-path="url(#pc1)">
<path d="M396.40,299.34 L397.58,298.21 L398.77,297.03 L399.95,295.81 L401.13,294.55 L402.32,293.24 L403.50,291.90 L404.68,290.51 L405.87,289.09 L407.05,287.63 L408.24,286.13 L409.42,284.54 L410.60,282.88 L411.79,281.16 L412.97,279.40 L414.15,277.62 L415.34,275.83 L416.52,274.05 L417.70,272.29 L418.89,270.56 L420.07,268.81 L421.25,267.03 L422.44,265.24 L423.62,263.46 L424.81,261.69 L425.99,259.96 L427.17,258.29 L428.36,256.69 L429.54,255.17 L430.72,253.69 L431.91,252.24 L433.09,250.82 L434.27,249.43 L435.46,248.10 L436.64,246.81 L437.82,245.59 L439.01,244.45 L440.19,243.39 L441.37,242.39 L442.56,241.44 L443.74,240.54 L444.93,239.67 L446.11,238.84 L447.29,238.06 L448.48,237.31 L449.66,236.60 L450.84,235.93 L452.03,235.29 L453.21,234.67 L454.39,234.08 L455.58,233.52 L456.76,232.97 L457.94,232.46 L459.13,231.97 L460.31,231.51 L461.49,231.08 L462.68,230.68 L463.86,230.30 L465.05,229.95 L466.23,229.62 L467.41,229.31 L468.60,229.01 L469.78,228.72 L470.96,228.43 L472.15,228.15 L473.33,227.86 L474.51,227.56 L475.70,227.25 L476.88,226.94 L478.06,226.63 L479.25,226.31 L480.43,226.00 L481.62,225.68 L482.80,225.37 L483.98,225.06 L485.17,224.74 L486.35,224.43 L487.53,224.11 L488.72,223.80 L489.90,223.49 L489.90,231.07 L488.72,231.08 L487.53,231.11 L486.35,231.16 L485.17,231.22 L483.98,231.30 L482.80,231.39 L481.62,231.49 L480.43,231.60 L479.25,231.72 L478.06,231.85 L476.88,231.98 L475.70,232.12 L474.51,232.28 L473.33,232.47 L472.15,232.71 L470.96,232.98 L469.78,233.28 L468.60,233.60 L467.41,233.95 L466.23,234.32 L465.05,234.71 L463.86,235.11 L462.68,235.52 L461.49,235.95 L460.31,236.43 L459.13,236.96 L457.94,237.52 L456.76,238.13 L455.58,238.77 L454.39,239.43 L453.21,240.13 L452.03,240.85 L450.84,241.59 L449.66,242.38 L448.48,243.22 L447.29,244.11 L446.11,245.05 L444.93,246.02 L443.74,247.03 L442.56,248.07 L441.37,249.14 L440.19,250.23 L439.01,251.35 L437.82,252.52 L436.64,253.73 L435.46,254.98 L434.27,256.28 L433.09,257.63 L431.91,259.03 L430.72,260.48 L429.54,261.99 L428.36,263.58 L427.17,265.28 L425.99,267.07 L424.81,268.94 L423.62,270.87 L422.44,272.84 L421.25,274.83 L420.07,276.82 L418.89,278.81 L417.70,280.77 L416.52,282.76 L415.34,284.78 L414.15,286.82 L412.97,288.88 L411.79,290.94 L410.60,293.01 L409.42,295.07 L408.24,297.13 L407.05,299.18 L405.87,301.22 L404.68,303.26 L403.50,305.30 L402.32,307.34 L401.13,309.38 L399.95,311.42 L398.77,313.46 L397.58,315.50 L396.40,317.54Z" stroke="none" fill="#b9b9b9" stroke-width="0.7" fill-opacity="0.9"/>
<path d="M396.40,298.58 L397.58,298.47 L398.77,298.37 L399.95,298.27 L401.13,298.17 L402.32,298.07 L403.50,297.96 L404.68,297.86 L405.87,297.76 L407.05,297.68 L408.24,297.60 L409.42,297.52 L410.60,297.44 L411.79,297.33 L412.97,297.20 L414.15,297.04 L415.34,296.74 L416.52,296.27 L417.70,295.65 L418.89,294.90 L420.07,294.04 L421.25,293.09 L422.44,292.07 L423.62,290.91 L424.81,289.34 L425.99,287.45 L427.17,285.30 L428.36,283.00 L429.54,280.63 L430.72,278.27 L431.91,276.00 L433.09,273.64 L434.27,271.16 L435.46,268.60 L436.64,266.03 L437.82,263.50 L439.01,261.05 L440.19,258.76 L441.37,256.58 L442.56,254.40 L443.74,252.26 L444.93,250.19 L446.11,248.23 L447.29,246.43 L448.48,244.83 L449.66,243.45 L450.84,242.18 L452.03,240.98 L453.21,239.87 L454.39,238.85 L455.58,237.93 L456.76,237.11 L457.94,236.41 L459.13,235.79 L460.31,235.23 L461.49,234.71 L462.68,234.23 L463.86,233.78 L465.05,233.37 L466.23,232.98 L467.41,232.61 L468.60,232.25 L469.78,231.91 L470.96,231.61 L472.15,231.32 L473.33,231.06 L474.51,230.80 L475.70,230.55 L476.88,230.30 L478.06,230.03 L479.25,229.75 L480.43,229.44 L481.62,229.11 L482.80,228.77 L483.98,228.42 L485.17,228.06 L486.35,227.69 L487.53,227.31 L488.72,226.92 L489.90,226.52 L489.90,236.38 L488.72,236.17 L487.53,236.00 L486.35,235.87 L485.17,235.77 L483.98,235.70 L482.80,235.66 L481.62,235.63 L480.43,235.62 L479.25,235.63 L478.06,235.71 L476.88,235.83 L475.70,236.01 L474.51,236.23 L473.33,236.48 L472.15,236.76 L470.96,237.06 L469.78,237.38 L468.60,237.71 L467.41,238.12 L466.23,238.61 L465.05,239.19 L463.86,239.85 L462.68,240.58 L461.49,241.36 L460.31,242.20 L459.13,243.09 L457.94,244.01 L456.76,245.03 L455.58,246.21 L454.39,247.52 L453.21,248.96 L452.03,250.50 L450.84,252.15 L449.66,253.89 L448.48,255.75 L447.29,257.88 L446.11,260.24 L444.93,262.77 L443.74,265.39 L442.56,268.05 L441.37,270.69 L440.19,273.23 L439.01,275.82 L437.82,278.50 L436.64,281.21 L435.46,283.90 L434.27,286.50 L433.09,288.95 L431.91,291.21 L430.72,293.28 L429.54,295.33 L428.36,297.33 L427.17,299.22 L425.99,300.97 L424.81,302.54 L423.62,303.87 L422.44,304.95 L421.25,305.88 L420.07,306.71 L418.89,307.47 L417.70,308.15 L416.52,308.77 L415.34,309.35 L414.15,309.89 L412.97,310.39 L411.79,310.83 L410.60,311.25 L409.42,311.63 L408.24,312.01 L407.05,312.38 L405.87,312.76 L404.68,313.17 L403.50,313.57 L402.32,313.98 L401.13,314.39 L399.95,314.80 L398.77,315.21 L397.58,315.61 L396.40,316.02Z" stroke="none" fill="#8d8fcf" stroke-width="0.7" fill-opacity="0.85"/>
<path d="M396.40,309.20 L397.58,307.55 L398.77,305.90 L399.95,304.22 L401.13,302.52 L402.32,300.81 L403.50,299.08 L404.68,297.34 L405.87,295.57 L407.05,293.79 L408.24,291.99 L409.42,290.15 L410.60,288.28 L411.79,286.39 L412.97,284.48 L414.15,282.57 L415.34,280.67 L416.52,278.78 L417.70,276.91 L418.89,275.06 L420.07,273.20 L421.25,271.31 L422.44,269.42 L423.62,267.54 L424.81,265.69 L425.99,263.90 L427.17,262.16 L428.36,260.51 L429.54,258.96 L430.72,257.47 L431.91,256.02 L433.09,254.61 L434.27,253.25 L435.46,251.93 L436.64,250.67 L437.82,249.45 L439.01,248.29 L440.19,247.19 L441.37,246.13 L442.56,245.11 L443.74,244.12 L444.93,243.16 L446.11,242.24 L447.29,241.36 L448.48,240.53 L449.66,239.74 L450.84,238.99 L452.03,238.29 L453.21,237.61 L454.39,236.96 L455.58,236.33 L456.76,235.73 L457.94,235.16 L459.13,234.63 L460.31,234.13 L461.49,233.67 L462.68,233.25 L463.86,232.86 L465.05,232.48 L466.23,232.12 L467.41,231.78 L468.60,231.45 L469.78,231.15 L470.96,230.85 L472.15,230.58 L473.33,230.32 L474.51,230.07 L475.70,229.84 L476.88,229.62 L478.06,229.40 L479.25,229.19 L480.43,228.98 L481.62,228.79 L482.80,228.60 L483.98,228.43 L485.17,228.26 L486.35,228.11 L487.53,227.97 L488.72,227.85 L489.90,227.73" stroke="#1a1a1a" fill="none" stroke-width="1.25" stroke-linejoin="round"/>
<path d="M396.40,306.92 L397.58,306.88 L398.77,306.81 L399.95,306.72 L401.13,306.62 L402.32,306.49 L403.50,306.36 L404.68,306.22 L405.87,306.08 L407.05,305.91 L408.24,305.72 L409.42,305.50 L410.60,305.25 L411.79,304.97 L412.97,304.65 L414.15,304.29 L415.34,303.84 L416.52,303.26 L417.70,302.58 L418.89,301.79 L420.07,300.91 L421.25,299.95 L422.44,298.91 L423.62,297.75 L424.81,296.31 L425.99,294.63 L427.17,292.77 L428.36,290.76 L429.54,288.66 L430.72,286.51 L431.91,284.36 L433.09,282.05 L434.27,279.54 L435.46,276.91 L436.64,274.22 L437.82,271.52 L439.01,268.89 L440.19,266.39 L441.37,263.97 L442.56,261.51 L443.74,259.06 L444.93,256.67 L446.11,254.38 L447.29,252.25 L448.48,250.33 L449.66,248.64 L450.84,247.06 L452.03,245.56 L453.21,244.15 L454.39,242.85 L455.58,241.67 L456.76,240.63 L457.94,239.75 L459.13,238.99 L460.31,238.29 L461.49,237.63 L462.68,237.03 L463.86,236.47 L465.05,235.96 L466.23,235.49 L467.41,235.07 L468.60,234.68 L469.78,234.33 L470.96,233.98 L472.15,233.66 L473.33,233.35 L474.51,233.06 L475.70,232.80 L476.88,232.57 L478.06,232.37 L479.25,232.21 L480.43,232.09 L481.62,231.98 L482.80,231.88 L483.98,231.78 L485.17,231.70 L486.35,231.63 L487.53,231.57 L488.72,231.54 L489.90,231.53" stroke="#3350ac" fill="none" stroke-width="0.95" stroke-linejoin="round"/>
</g>
<line x1="389.50" y1="221.20" x2="389.50" y2="327.90" stroke="#2a2a2a" stroke-width="0.8" />
<line x1="389.10" y1="327.50" x2="495.50" y2="327.50" stroke="#2a2a2a" stroke-width="0.8" />
<line x1="386.90" y1="327.40" x2="389.50" y2="327.40" stroke="#2a2a2a" stroke-width="0.8" />
<text x="385.40" y="330.60" font-size="8.9" text-anchor="end" fill="#231f20" >0.3</text>
<line x1="386.90" y1="297.06" x2="389.50" y2="297.06" stroke="#2a2a2a" stroke-width="0.8" />
<text x="385.40" y="300.26" font-size="8.9" text-anchor="end" fill="#231f20" >0.5</text>
<line x1="386.90" y1="266.72" x2="389.50" y2="266.72" stroke="#2a2a2a" stroke-width="0.8" />
<text x="385.40" y="269.92" font-size="8.9" text-anchor="end" fill="#231f20" >0.7</text>
<line x1="386.90" y1="236.38" x2="389.50" y2="236.38" stroke="#2a2a2a" stroke-width="0.8" />
<text x="385.40" y="239.58" font-size="8.9" text-anchor="end" fill="#231f20" >0.9</text>
<line x1="396.40" y1="327.50" x2="396.40" y2="330.10" stroke="#2a2a2a" stroke-width="0.8" />
<text x="396.40" y="337.50" font-size="8.9" text-anchor="middle" fill="#231f20" >0.5</text>
<line x1="418.40" y1="327.50" x2="418.40" y2="330.10" stroke="#2a2a2a" stroke-width="0.8" />
<text x="418.40" y="337.50" font-size="8.9" text-anchor="middle" fill="#231f20" >0.6</text>
<line x1="440.40" y1="327.50" x2="440.40" y2="330.10" stroke="#2a2a2a" stroke-width="0.8" />
<text x="440.40" y="337.50" font-size="8.9" text-anchor="middle" fill="#231f20" >0.7</text>
<line x1="462.40" y1="327.50" x2="462.40" y2="330.10" stroke="#2a2a2a" stroke-width="0.8" />
<text x="462.40" y="337.50" font-size="8.9" text-anchor="middle" fill="#231f20" >0.8</text>
<line x1="484.40" y1="327.50" x2="484.40" y2="330.10" stroke="#2a2a2a" stroke-width="0.8" />
<text x="484.40" y="337.50" font-size="8.9" text-anchor="middle" fill="#231f20" >0.9</text>
<text x="437.30" y="347.70" font-size="9.4" text-anchor="middle" fill="#231f20" >LP/HP cue congruence</text>
<text x="368.80" y="276.75" font-size="9.4" text-anchor="middle" fill="#231f20" transform="rotate(-90 368.80 276.75)" >Frac. correct target choice</text>
<text x="395.60" y="228.80" font-size="7.8" fill="#231f20" >p=0.00016</text>
<text x="458.00" y="256.80" font-size="6.9" fill="#231f20" textLength="32.5" lengthAdjust="spacingAndGlyphs" >AUC=0.33</text>
<text x="458.00" y="265.90" font-size="6.9" fill="#3350ac" textLength="32.5" lengthAdjust="spacingAndGlyphs" >AUC=0.29</text>
<line x1="442.50" y1="310.00" x2="455.50" y2="310.00" stroke="#b9b9b9" stroke-width="2.4" />
<line x1="442.50" y1="310.00" x2="455.50" y2="310.00" stroke="#1a1a1a" stroke-width="1.1" />
<text x="458.80" y="312.20" font-size="8.1" fill="#231f20" >PFC-MD</text>
<line x1="442.50" y1="318.80" x2="455.50" y2="318.80" stroke="#3350ac" stroke-width="0.95" />
<text x="458.80" y="321.00" font-size="8.1" fill="#231f20" >PFC alone</text>
<clipPath id="pc2"><rect x="561.50" y="221.20" width="106.50" height="106.30"/></clipPath>
<g clip-path="url(#pc2)">
<path d="M568.20,306.92 L569.37,306.03 L570.53,304.45 L571.70,302.39 L572.86,300.00 L574.03,296.49 L575.19,292.13 L576.36,287.56 L577.52,283.22 L578.69,278.70 L579.85,274.15 L581.02,269.78 L582.18,265.64 L583.35,261.59 L584.51,257.78 L585.68,254.42 L586.84,251.38 L588.01,248.59 L589.17,246.15 L590.34,244.19 L591.50,242.52 L592.67,241.08 L593.83,239.88 L595.00,238.92 L596.16,238.12 L597.33,237.44 L598.49,236.82 L599.66,236.22 L600.82,235.66 L601.99,235.12 L603.15,234.61 L604.32,234.13 L605.48,233.69 L606.65,233.28 L607.81,232.92 L608.98,232.58 L610.14,232.25 L611.31,231.95 L612.47,231.67 L613.64,231.41 L614.80,231.17 L615.97,230.95 L617.13,230.75 L618.30,230.56 L619.46,230.37 L620.63,230.19 L621.79,230.02 L622.96,229.86 L624.12,229.70 L625.29,229.55 L626.45,229.41 L627.62,229.27 L628.78,229.13 L629.95,229.01 L631.11,228.89 L632.28,228.77 L633.44,228.66 L634.61,228.55 L635.77,228.46 L636.94,228.38 L638.10,228.31 L639.27,228.24 L640.43,228.18 L641.60,228.11 L642.76,228.04 L643.93,227.96 L645.09,227.86 L646.26,227.75 L647.42,227.63 L648.59,227.47 L649.75,227.25 L650.92,226.98 L652.08,226.67 L653.25,226.30 L654.41,225.90 L655.58,225.46 L656.74,225.00 L657.91,224.51 L659.07,224.00 L660.24,223.49 L660.24,231.83 L659.07,231.66 L657.91,231.51 L656.74,231.38 L655.58,231.26 L654.41,231.17 L653.25,231.09 L652.08,231.02 L650.92,230.97 L649.75,230.94 L648.59,230.92 L647.42,230.92 L646.26,230.94 L645.09,231.00 L643.93,231.07 L642.76,231.17 L641.60,231.28 L640.43,231.41 L639.27,231.54 L638.10,231.69 L636.94,231.84 L635.77,232.00 L634.61,232.15 L633.44,232.30 L632.28,232.45 L631.11,232.62 L629.95,232.79 L628.78,232.98 L627.62,233.17 L626.45,233.38 L625.29,233.59 L624.12,233.82 L622.96,234.05 L621.79,234.30 L620.63,234.55 L619.46,234.82 L618.30,235.09 L617.13,235.38 L615.97,235.67 L614.80,235.99 L613.64,236.33 L612.47,236.71 L611.31,237.11 L610.14,237.54 L608.98,238.00 L607.81,238.48 L606.65,239.00 L605.48,239.57 L604.32,240.19 L603.15,240.86 L601.99,241.57 L600.82,242.30 L599.66,243.06 L598.49,243.83 L597.33,244.61 L596.16,245.44 L595.00,246.40 L593.83,247.57 L592.67,249.05 L591.50,250.79 L590.34,252.76 L589.17,254.96 L588.01,257.56 L586.84,260.45 L585.68,263.52 L584.51,266.79 L583.35,270.35 L582.18,274.14 L581.02,278.10 L579.85,282.39 L578.69,286.94 L577.52,291.51 L576.36,295.92 L575.19,300.41 L574.03,304.80 L572.86,308.79 L571.70,312.21 L570.53,315.34 L569.37,318.14 L568.20,320.57Z" stroke="none" fill="#b9b9b9" stroke-width="0.7" fill-opacity="0.9"/>
<path d="M568.20,305.10 L569.37,304.51 L570.53,303.90 L571.70,303.26 L572.86,302.61 L574.03,301.93 L575.19,301.24 L576.36,300.52 L577.52,299.76 L578.69,298.97 L579.85,298.15 L581.02,297.31 L582.18,296.45 L583.35,295.55 L584.51,294.60 L585.68,293.60 L586.84,292.53 L588.01,291.39 L589.17,290.14 L590.34,288.74 L591.50,287.22 L592.67,285.60 L593.83,283.92 L595.00,282.19 L596.16,280.44 L597.33,278.71 L598.49,276.99 L599.66,275.20 L600.82,273.34 L601.99,271.44 L603.15,269.53 L604.32,267.63 L605.48,265.80 L606.65,264.05 L607.81,262.42 L608.98,260.90 L610.14,259.43 L611.31,258.00 L612.47,256.63 L613.64,255.30 L614.80,254.01 L615.97,252.78 L617.13,251.60 L618.30,250.46 L619.46,249.36 L620.63,248.29 L621.79,247.26 L622.96,246.27 L624.12,245.31 L625.29,244.39 L626.45,243.50 L627.62,242.65 L628.78,241.83 L629.95,241.05 L631.11,240.29 L632.28,239.55 L633.44,238.84 L634.61,238.16 L635.77,237.50 L636.94,236.86 L638.10,236.25 L639.27,235.68 L640.43,235.15 L641.60,234.64 L642.76,234.15 L643.93,233.66 L645.09,233.15 L646.26,232.61 L647.42,232.03 L648.59,231.40 L649.75,230.73 L650.92,230.04 L652.08,229.31 L653.25,228.56 L654.41,227.78 L655.58,226.97 L656.74,226.14 L657.91,225.28 L659.07,224.39 L660.24,223.49 L660.24,234.10 L659.07,234.49 L657.91,234.92 L656.74,235.40 L655.58,235.92 L654.41,236.47 L653.25,237.06 L652.08,237.68 L650.92,238.33 L649.75,239.00 L648.59,239.69 L647.42,240.41 L646.26,241.18 L645.09,242.02 L643.93,242.91 L642.76,243.85 L641.60,244.84 L640.43,245.86 L639.27,246.91 L638.10,247.98 L636.94,249.08 L635.77,250.25 L634.61,251.46 L633.44,252.72 L632.28,254.03 L631.11,255.36 L629.95,256.72 L628.78,258.09 L627.62,259.47 L626.45,260.90 L625.29,262.37 L624.12,263.88 L622.96,265.41 L621.79,266.95 L620.63,268.50 L619.46,270.05 L618.30,271.58 L617.13,273.09 L615.97,274.61 L614.80,276.14 L613.64,277.66 L612.47,279.18 L611.31,280.70 L610.14,282.20 L608.98,283.69 L607.81,285.16 L606.65,286.65 L605.48,288.16 L604.32,289.67 L603.15,291.16 L601.99,292.62 L600.82,294.03 L599.66,295.36 L598.49,296.61 L597.33,297.77 L596.16,298.86 L595.00,299.90 L593.83,300.90 L592.67,301.86 L591.50,302.79 L590.34,303.70 L589.17,304.59 L588.01,305.47 L586.84,306.32 L585.68,307.12 L584.51,307.90 L583.35,308.66 L582.18,309.41 L581.02,310.18 L579.85,310.98 L578.69,311.82 L577.52,312.71 L576.36,313.59 L575.19,314.52 L574.03,315.53 L572.86,316.67 L571.70,318.03 L570.53,319.68 L569.37,321.56 L568.20,323.61Z" stroke="none" fill="#8d8fcf" stroke-width="0.7" fill-opacity="0.85"/>
<path d="M568.20,315.26 L569.37,313.37 L570.53,310.99 L571.70,308.21 L572.86,305.08 L574.03,301.18 L575.19,296.72 L576.36,292.13 L577.52,287.73 L578.69,283.23 L579.85,278.74 L581.02,274.46 L582.18,270.44 L583.35,266.54 L584.51,262.88 L585.68,259.57 L586.84,256.54 L588.01,253.72 L589.17,251.22 L590.34,249.16 L591.50,247.39 L592.67,245.84 L593.83,244.51 L595.00,243.38 L596.16,242.42 L597.33,241.57 L598.49,240.79 L599.66,240.05 L600.82,239.34 L601.99,238.65 L603.15,238.00 L604.32,237.39 L605.48,236.82 L606.65,236.31 L607.81,235.84 L608.98,235.42 L610.14,235.01 L611.31,234.64 L612.47,234.29 L613.64,233.96 L614.80,233.66 L615.97,233.39 L617.13,233.13 L618.30,232.89 L619.46,232.65 L620.63,232.42 L621.79,232.20 L622.96,231.99 L624.12,231.79 L625.29,231.60 L626.45,231.41 L627.62,231.24 L628.78,231.07 L629.95,230.91 L631.11,230.76 L632.28,230.61 L633.44,230.48 L634.61,230.35 L635.77,230.24 L636.94,230.13 L638.10,230.03 L639.27,229.93 L640.43,229.84 L641.60,229.75 L642.76,229.66 L643.93,229.57 L645.09,229.48 L646.26,229.39 L647.42,229.28 L648.59,229.18 L649.75,229.07 L650.92,228.96 L652.08,228.85 L653.25,228.74 L654.41,228.62 L655.58,228.51 L656.74,228.39 L657.91,228.27 L659.07,228.16 L660.24,228.04" stroke="#1a1a1a" fill="none" stroke-width="1.25" stroke-linejoin="round"/>
<path d="M568.20,314.51 L569.37,313.38 L570.53,312.28 L571.70,311.24 L572.86,310.24 L574.03,309.30 L575.19,308.40 L576.36,307.52 L577.52,306.64 L578.69,305.75 L579.85,304.89 L581.02,304.04 L582.18,303.20 L583.35,302.36 L584.51,301.49 L585.68,300.60 L586.84,299.66 L588.01,298.66 L589.17,297.60 L590.34,296.48 L591.50,295.31 L592.67,294.09 L593.83,292.83 L595.00,291.53 L596.16,290.19 L597.33,288.82 L598.49,287.42 L599.66,285.94 L600.82,284.38 L601.99,282.77 L603.15,281.12 L604.32,279.45 L605.48,277.79 L606.65,276.15 L607.81,274.56 L608.98,273.00 L610.14,271.45 L611.31,269.89 L612.47,268.35 L613.64,266.83 L614.80,265.32 L615.97,263.84 L617.13,262.40 L618.30,261.00 L619.46,259.61 L620.63,258.24 L621.79,256.89 L622.96,255.56 L624.12,254.27 L625.29,253.01 L626.45,251.79 L627.62,250.61 L628.78,249.48 L629.95,248.37 L631.11,247.28 L632.28,246.22 L633.44,245.20 L634.61,244.21 L635.77,243.26 L636.94,242.36 L638.10,241.51 L639.27,240.71 L640.43,239.95 L641.60,239.22 L642.76,238.52 L643.93,237.84 L645.09,237.17 L646.26,236.51 L647.42,235.84 L648.59,235.17 L649.75,234.50 L650.92,233.84 L652.08,233.18 L653.25,232.53 L654.41,231.89 L655.58,231.26 L656.74,230.63 L657.91,230.01 L659.07,229.40 L660.24,228.80" stroke="#3350ac" fill="none" stroke-width="0.95" stroke-linejoin="round"/>
</g>
<line x1="561.50" y1="221.20" x2="561.50" y2="327.90" stroke="#2a2a2a" stroke-width="0.8" />
<line x1="561.10" y1="327.50" x2="668.00" y2="327.50" stroke="#2a2a2a" stroke-width="0.8" />
<line x1="558.90" y1="327.40" x2="561.50" y2="327.40" stroke="#2a2a2a" stroke-width="0.8" />
<text x="556.90" y="330.60" font-size="8.9" text-anchor="end" fill="#231f20" >0.3</text>
<line x1="558.90" y1="297.06" x2="561.50" y2="297.06" stroke="#2a2a2a" stroke-width="0.8" />
<text x="556.90" y="300.26" font-size="8.9" text-anchor="end" fill="#231f20" >0.5</text>
<line x1="558.90" y1="266.72" x2="561.50" y2="266.72" stroke="#2a2a2a" stroke-width="0.8" />
<text x="556.90" y="269.92" font-size="8.9" text-anchor="end" fill="#231f20" >0.7</text>
<line x1="558.90" y1="236.38" x2="561.50" y2="236.38" stroke="#2a2a2a" stroke-width="0.8" />
<text x="556.90" y="239.58" font-size="8.9" text-anchor="end" fill="#231f20" >0.9</text>
<line x1="568.20" y1="327.50" x2="568.20" y2="330.10" stroke="#2a2a2a" stroke-width="0.8" />
<text x="568.20" y="337.50" font-size="8.9" text-anchor="middle" fill="#231f20" >0.0</text>
<line x1="588.10" y1="327.50" x2="588.10" y2="330.10" stroke="#2a2a2a" stroke-width="0.8" />
<text x="588.10" y="337.50" font-size="8.9" text-anchor="middle" fill="#231f20" >0.2</text>
<line x1="608.00" y1="327.50" x2="608.00" y2="330.10" stroke="#2a2a2a" stroke-width="0.8" />
<text x="608.00" y="337.50" font-size="8.9" text-anchor="middle" fill="#231f20" >0.4</text>
<line x1="627.90" y1="327.50" x2="627.90" y2="330.10" stroke="#2a2a2a" stroke-width="0.8" />
<text x="627.90" y="337.50" font-size="8.9" text-anchor="middle" fill="#231f20" >0.6</text>
<line x1="647.80" y1="327.50" x2="647.80" y2="330.10" stroke="#2a2a2a" stroke-width="0.8" />
<text x="647.80" y="337.50" font-size="8.9" text-anchor="middle" fill="#231f20" >0.8</text>
<line x1="667.70" y1="327.50" x2="667.70" y2="330.10" stroke="#2a2a2a" stroke-width="0.8" />
<text x="667.70" y="337.50" font-size="8.9" text-anchor="middle" fill="#231f20" >1.0</text>
<text x="613.00" y="347.70" font-size="9.4" text-anchor="middle" fill="#231f20" >Random dot motion coherence</text>
<text x="538.80" y="276.75" font-size="9.4" text-anchor="middle" fill="#231f20" transform="rotate(-90 538.80 276.75)" >Frac. correct target choice</text>
<text x="569.60" y="228.80" font-size="7.8" fill="#231f20" >p=0.00016</text>
<text x="630.30" y="261.90" font-size="6.9" fill="#231f20" textLength="32.0" lengthAdjust="spacingAndGlyphs" >AUC=0.76</text>
<text x="630.30" y="271.30" font-size="6.9" fill="#3350ac" textLength="32.0" lengthAdjust="spacingAndGlyphs" >AUC=0.62</text>
<text x="0.00" y="378.80" font-size="20.5" fill="#111" font-weight="bold" >e</text>
<rect x="72.35" y="372.10" width="31.50" height="14.20" rx="5.2" fill="#dce4e5"/>
<text x="88.10" y="382.87" font-size="10.2" text-anchor="middle" fill="#231f20" >CAC</text>
<rect x="38.00" y="398.07" width="7.25" height="88.23" fill="#f6964b"/>
<rect x="45.20" y="405.01" width="7.25" height="81.29" fill="#5a8dc8"/>
<rect x="52.40" y="421.33" width="7.25" height="64.97" fill="#5eac5c"/>
<rect x="67.00" y="480.79" width="7.25" height="5.51" fill="#f6964b"/>
<rect x="74.20" y="477.53" width="7.25" height="8.77" fill="#5a8dc8"/>
<rect x="81.40" y="469.98" width="7.25" height="16.32" fill="#5eac5c"/>
<rect x="95.60" y="483.65" width="7.25" height="2.65" fill="#f6964b"/>
<rect x="102.80" y="483.44" width="7.25" height="2.86" fill="#5a8dc8"/>
<rect x="110.00" y="482.42" width="7.25" height="3.88" fill="#5eac5c"/>
<rect x="124.50" y="480.79" width="7.25" height="5.51" fill="#f6964b"/>
<rect x="131.70" y="477.53" width="7.25" height="8.77" fill="#5a8dc8"/>
<rect x="138.90" y="469.98" width="7.25" height="16.32" fill="#5eac5c"/>
<line x1="41.60" y1="397.07" x2="41.60" y2="399.07" stroke="#222" stroke-width="0.7" />
<path d="M39.10,398.07 L41.60,396.37 L44.10,398.07 L41.60,399.77Z" stroke="none" fill="#1a1a1a" stroke-width="0.7" />
<line x1="48.80" y1="403.41" x2="48.80" y2="406.61" stroke="#222" stroke-width="0.7" />
<path d="M46.30,405.01 L48.80,403.31 L51.30,405.01 L48.80,406.71Z" stroke="none" fill="#1a1a1a" stroke-width="0.7" />
<line x1="56.00" y1="418.73" x2="56.00" y2="423.93" stroke="#222" stroke-width="0.7" />
<path d="M53.50,421.33 L56.00,419.63 L58.50,421.33 L56.00,423.03Z" stroke="none" fill="#1a1a1a" stroke-width="0.7" />
<line x1="70.60" y1="479.59" x2="70.60" y2="481.99" stroke="#222" stroke-width="0.7" />
<path d="M68.10,480.79 L70.60,479.09 L73.10,480.79 L70.60,482.49Z" stroke="none" fill="#1a1a1a" stroke-width="0.7" />
<line x1="77.80" y1="476.13" x2="77.80" y2="478.93" stroke="#222" stroke-width="0.7" />
<path d="M75.30,477.53 L77.80,475.83 L80.30,477.53 L77.80,479.23Z" stroke="none" fill="#1a1a1a" stroke-width="0.7" />
<line x1="85.00" y1="467.58" x2="85.00" y2="472.38" stroke="#222" stroke-width="0.7" />
<path d="M82.50,469.98 L85.00,468.28 L87.50,469.98 L85.00,471.68Z" stroke="none" fill="#1a1a1a" stroke-width="0.7" />
<line x1="99.20" y1="482.45" x2="99.20" y2="484.85" stroke="#222" stroke-width="0.7" />
<path d="M96.70,483.65 L99.20,481.95 L101.70,483.65 L99.20,485.35Z" stroke="none" fill="#1a1a1a" stroke-width="0.7" />
<line x1="106.40" y1="482.24" x2="106.40" y2="484.64" stroke="#222" stroke-width="0.7" />
<path d="M103.90,483.44 L106.40,481.74 L108.90,483.44 L106.40,485.14Z" stroke="none" fill="#1a1a1a" stroke-width="0.7" />
<line x1="113.60" y1="481.02" x2="113.60" y2="483.82" stroke="#222" stroke-width="0.7" />
<path d="M111.10,482.42 L113.60,480.72 L116.10,482.42 L113.60,484.12Z" stroke="none" fill="#1a1a1a" stroke-width="0.7" />
<line x1="128.10" y1="479.59" x2="128.10" y2="481.99" stroke="#222" stroke-width="0.7" />
<path d="M125.60,480.79 L128.10,479.09 L130.60,480.79 L128.10,482.49Z" stroke="none" fill="#1a1a1a" stroke-width="0.7" />
<line x1="135.30" y1="475.93" x2="135.30" y2="479.13" stroke="#222" stroke-width="0.7" />
<path d="M132.80,477.53 L135.30,475.83 L137.80,477.53 L135.30,479.23Z" stroke="none" fill="#1a1a1a" stroke-width="0.7" />
<line x1="142.50" y1="467.58" x2="142.50" y2="472.38" stroke="#222" stroke-width="0.7" />
<path d="M140.00,469.98 L142.50,468.28 L145.00,469.98 L142.50,471.68Z" stroke="none" fill="#1a1a1a" stroke-width="0.7" />
<line x1="32.50" y1="392.50" x2="32.50" y2="486.70" stroke="#2a2a2a" stroke-width="0.8" />
<line x1="32.10" y1="486.30" x2="151.30" y2="486.30" stroke="#2a2a2a" stroke-width="0.8" />
<line x1="29.90" y1="486.30" x2="32.50" y2="486.30" stroke="#2a2a2a" stroke-width="0.8" />
<text x="27.30" y="489.50" font-size="8.9" text-anchor="end" fill="#231f20" >0.0</text>
<line x1="29.90" y1="455.70" x2="32.50" y2="455.70" stroke="#2a2a2a" stroke-width="0.8" />
<text x="27.30" y="458.90" font-size="8.9" text-anchor="end" fill="#231f20" >0.3</text>
<line x1="29.90" y1="425.10" x2="32.50" y2="425.10" stroke="#2a2a2a" stroke-width="0.8" />
<text x="27.30" y="428.30" font-size="8.9" text-anchor="end" fill="#231f20" >0.6</text>
<line x1="29.90" y1="394.50" x2="32.50" y2="394.50" stroke="#2a2a2a" stroke-width="0.8" />
<text x="27.30" y="397.70" font-size="8.9" text-anchor="end" fill="#231f20" >0.9</text>
<line x1="48.80" y1="486.30" x2="48.80" y2="488.90" stroke="#2a2a2a" stroke-width="0.8" />
<text x="48.30" y="497.90" font-size="8.9" text-anchor="middle" fill="#231f20" >correct</text>
<line x1="77.80" y1="486.30" x2="77.80" y2="488.90" stroke="#2a2a2a" stroke-width="0.8" />
<text x="77.30" y="497.90" font-size="8.9" text-anchor="middle" fill="#231f20" >rule</text>
<text x="77.30" y="508.10" font-size="8.9" text-anchor="middle" fill="#231f20" >error</text>
<line x1="106.40" y1="486.30" x2="106.40" y2="488.90" stroke="#2a2a2a" stroke-width="0.8" />
<text x="105.90" y="497.90" font-size="8.9" text-anchor="middle" fill="#231f20" >sensory</text>
<text x="105.90" y="508.10" font-size="8.9" text-anchor="middle" fill="#231f20" >error</text>
<line x1="135.30" y1="486.30" x2="135.30" y2="488.90" stroke="#2a2a2a" stroke-width="0.8" />
<text x="134.80" y="497.90" font-size="8.9" text-anchor="middle" fill="#231f20" >both</text>
<text x="134.80" y="508.10" font-size="8.9" text-anchor="middle" fill="#231f20" >error</text>
<text x="11.00" y="441.00" font-size="9.4" text-anchor="middle" fill="#231f20" transform="rotate(-90 11.00 441.00)" >Frac. correct target choice</text>
<rect x="83.4" y="393.60" width="9.6" height="3.7" fill="#f6964b"/>
<text x="96.20" y="397.70" font-size="6.85" fill="#333" >low uncertainty</text>
<rect x="83.4" y="401.80" width="9.6" height="3.7" fill="#5a8dc8"/>
<text x="96.20" y="405.90" font-size="6.85" fill="#333" >med. uncertainty</text>
<rect x="83.4" y="409.90" width="9.6" height="3.7" fill="#5eac5c"/>
<text x="96.20" y="414.00" font-size="6.85" fill="#333" >high unicertainty</text>
<line x1="41.30" y1="387.50" x2="55.50" y2="387.50" stroke="#7d7d7d" stroke-width="0.65" />
<text x="48.40" y="388.70" font-size="6.6" text-anchor="middle" fill="#8a8a8a" letter-spacing="-0.25" >***</text>
<line x1="41.30" y1="394.50" x2="48.00" y2="394.50" stroke="#7d7d7d" stroke-width="0.65" />
<text x="44.65" y="395.70" font-size="6.6" text-anchor="middle" fill="#8a8a8a" letter-spacing="-0.25" >***</text>
<line x1="48.80" y1="400.50" x2="55.50" y2="400.50" stroke="#7d7d7d" stroke-width="0.65" />
<text x="52.15" y="401.70" font-size="6.6" text-anchor="middle" fill="#8a8a8a" letter-spacing="-0.25" >***</text>
<line x1="70.00" y1="460.50" x2="85.00" y2="460.50" stroke="#7d7d7d" stroke-width="0.65" />
<text x="77.50" y="461.70" font-size="6.6" text-anchor="middle" fill="#8a8a8a" letter-spacing="-0.25" >***</text>
<line x1="78.00" y1="466.50" x2="85.00" y2="466.50" stroke="#7d7d7d" stroke-width="0.65" />
<text x="81.50" y="467.70" font-size="6.6" text-anchor="middle" fill="#8a8a8a" letter-spacing="-0.25" >***</text>
<line x1="70.00" y1="473.50" x2="77.50" y2="473.50" stroke="#7d7d7d" stroke-width="0.65" />
<text x="73.75" y="474.70" font-size="6.6" text-anchor="middle" fill="#8a8a8a" letter-spacing="-0.25" >***</text>
<line x1="99.30" y1="467.50" x2="113.80" y2="467.50" stroke="#7d7d7d" stroke-width="0.65" />
<text x="106.55" y="468.70" font-size="6.6" text-anchor="middle" fill="#8a8a8a" letter-spacing="-0.25" >***</text>
<line x1="107.00" y1="475.50" x2="113.80" y2="475.50" stroke="#7d7d7d" stroke-width="0.65" />
<text x="110.40" y="474.20" font-size="4.4" text-anchor="middle" fill="#8a8a8a" >ns</text>
<line x1="99.30" y1="479.50" x2="106.30" y2="479.50" stroke="#7d7d7d" stroke-width="0.65" />
<text x="102.80" y="480.70" font-size="6.6" text-anchor="middle" fill="#8a8a8a" letter-spacing="-0.25" >**</text>
<line x1="128.30" y1="459.50" x2="142.50" y2="459.50" stroke="#7d7d7d" stroke-width="0.65" />
<text x="135.40" y="460.70" font-size="6.6" text-anchor="middle" fill="#8a8a8a" letter-spacing="-0.25" >***</text>
<line x1="135.80" y1="466.50" x2="142.50" y2="466.50" stroke="#7d7d7d" stroke-width="0.65" />
<text x="139.15" y="467.70" font-size="6.6" text-anchor="middle" fill="#8a8a8a" letter-spacing="-0.25" >***</text>
<line x1="128.30" y1="473.50" x2="135.00" y2="473.50" stroke="#7d7d7d" stroke-width="0.65" />
<text x="131.65" y="474.70" font-size="6.6" text-anchor="middle" fill="#8a8a8a" letter-spacing="-0.25" >***</text>
<text x="4.20" y="548.80" font-size="20.5" fill="#111" font-weight="bold" >f</text>
<rect x="72.35" y="546.30" width="31.50" height="14.20" rx="5.2" fill="#dce4e5"/>
<text x="88.10" y="557.07" font-size="10.2" text-anchor="middle" fill="#231f20" >RDM</text>
<rect x="38.00" y="574.33" width="7.25" height="84.47" fill="#f6964b"/>
<rect x="45.20" y="595.81" width="7.25" height="62.99" fill="#5a8dc8"/>
<rect x="52.40" y="612.53" width="7.25" height="46.27" fill="#5eac5c"/>
<rect x="67.00" y="653.84" width="7.25" height="4.96" fill="#f6964b"/>
<rect x="74.20" y="642.57" width="7.25" height="16.23" fill="#5a8dc8"/>
<rect x="81.40" y="633.04" width="7.25" height="25.76" fill="#5eac5c"/>
<rect x="95.60" y="657.54" width="7.25" height="1.26" fill="#f6964b"/>
<rect x="102.80" y="657.05" width="7.25" height="1.75" fill="#5a8dc8"/>
<rect x="110.00" y="657.34" width="7.25" height="1.46" fill="#5eac5c"/>
<rect x="124.50" y="653.84" width="7.25" height="4.96" fill="#f6964b"/>
<rect x="131.70" y="644.32" width="7.25" height="14.48" fill="#5a8dc8"/>
<rect x="138.90" y="636.35" width="7.25" height="22.45" fill="#5eac5c"/>
<line x1="41.60" y1="571.93" x2="41.60" y2="576.73" stroke="#222" stroke-width="0.7" />
<path d="M39.10,574.33 L41.60,572.63 L44.10,574.33 L41.60,576.03Z" stroke="none" fill="#1a1a1a" stroke-width="0.7" />
<line x1="48.80" y1="593.21" x2="48.80" y2="598.41" stroke="#222" stroke-width="0.7" />
<path d="M46.30,595.81 L48.80,594.11 L51.30,595.81 L48.80,597.51Z" stroke="none" fill="#1a1a1a" stroke-width="0.7" />
<line x1="56.00" y1="611.53" x2="56.00" y2="613.53" stroke="#222" stroke-width="0.7" />
<path d="M53.50,612.53 L56.00,610.83 L58.50,612.53 L56.00,614.23Z" stroke="none" fill="#1a1a1a" stroke-width="0.7" />
<line x1="70.60" y1="651.64" x2="70.60" y2="656.04" stroke="#222" stroke-width="0.7" />
<path d="M68.10,653.84 L70.60,652.14 L73.10,653.84 L70.60,655.54Z" stroke="none" fill="#1a1a1a" stroke-width="0.7" />
<line x1="77.80" y1="639.97" x2="77.80" y2="645.17" stroke="#222" stroke-width="0.7" />
<path d="M75.30,642.57 L77.80,640.87 L80.30,642.57 L77.80,644.27Z" stroke="none" fill="#1a1a1a" stroke-width="0.7" />
<line x1="85.00" y1="632.04" x2="85.00" y2="634.04" stroke="#222" stroke-width="0.7" />
<path d="M82.50,633.04 L85.00,631.34 L87.50,633.04 L85.00,634.74Z" stroke="none" fill="#1a1a1a" stroke-width="0.7" />
<line x1="99.20" y1="656.64" x2="99.20" y2="658.44" stroke="#222" stroke-width="0.7" />
<path d="M96.70,657.54 L99.20,655.84 L101.70,657.54 L99.20,659.24Z" stroke="none" fill="#1a1a1a" stroke-width="0.7" />
<line x1="106.40" y1="656.05" x2="106.40" y2="658.05" stroke="#222" stroke-width="0.7" />
<path d="M103.90,657.05 L106.40,655.35 L108.90,657.05 L106.40,658.75Z" stroke="none" fill="#1a1a1a" stroke-width="0.7" />
<line x1="113.60" y1="656.44" x2="113.60" y2="658.24" stroke="#222" stroke-width="0.7" />
<path d="M111.10,657.34 L113.60,655.64 L116.10,657.34 L113.60,659.04Z" stroke="none" fill="#1a1a1a" stroke-width="0.7" />
<line x1="128.10" y1="652.04" x2="128.10" y2="655.64" stroke="#222" stroke-width="0.7" />
<path d="M125.60,653.84 L128.10,652.14 L130.60,653.84 L128.10,655.54Z" stroke="none" fill="#1a1a1a" stroke-width="0.7" />
<line x1="135.30" y1="642.92" x2="135.30" y2="645.72" stroke="#222" stroke-width="0.7" />
<path d="M132.80,644.32 L135.30,642.62 L137.80,644.32 L135.30,646.02Z" stroke="none" fill="#1a1a1a" stroke-width="0.7" />
<line x1="142.50" y1="634.55" x2="142.50" y2="638.15" stroke="#222" stroke-width="0.7" />
<path d="M140.00,636.35 L142.50,634.65 L145.00,636.35 L142.50,638.05Z" stroke="none" fill="#1a1a1a" stroke-width="0.7" />
<line x1="32.50" y1="565.50" x2="32.50" y2="659.20" stroke="#2a2a2a" stroke-width="0.8" />
<line x1="32.10" y1="658.80" x2="151.30" y2="658.80" stroke="#2a2a2a" stroke-width="0.8" />
<line x1="29.90" y1="658.80" x2="32.50" y2="658.80" stroke="#2a2a2a" stroke-width="0.8" />
<text x="27.30" y="662.00" font-size="8.9" text-anchor="end" fill="#231f20" >0.0</text>
<line x1="29.90" y1="629.64" x2="32.50" y2="629.64" stroke="#2a2a2a" stroke-width="0.8" />
<text x="27.30" y="632.84" font-size="8.9" text-anchor="end" fill="#231f20" >0.3</text>
<line x1="29.90" y1="600.48" x2="32.50" y2="600.48" stroke="#2a2a2a" stroke-width="0.8" />
<text x="27.30" y="603.68" font-size="8.9" text-anchor="end" fill="#231f20" >0.6</text>
<line x1="29.90" y1="571.32" x2="32.50" y2="571.32" stroke="#2a2a2a" stroke-width="0.8" />
<text x="27.30" y="574.52" font-size="8.9" text-anchor="end" fill="#231f20" >0.9</text>
<line x1="48.80" y1="658.80" x2="48.80" y2="661.40" stroke="#2a2a2a" stroke-width="0.8" />
<text x="48.30" y="670.60" font-size="8.9" text-anchor="middle" fill="#231f20" >correct</text>
<line x1="77.80" y1="658.80" x2="77.80" y2="661.40" stroke="#2a2a2a" stroke-width="0.8" />
<text x="77.30" y="670.60" font-size="8.9" text-anchor="middle" fill="#231f20" >rule</text>
<text x="77.30" y="680.60" font-size="8.9" text-anchor="middle" fill="#231f20" >error</text>
<line x1="106.40" y1="658.80" x2="106.40" y2="661.40" stroke="#2a2a2a" stroke-width="0.8" />
<text x="105.90" y="670.60" font-size="8.9" text-anchor="middle" fill="#231f20" >sensory</text>
<text x="105.90" y="680.60" font-size="8.9" text-anchor="middle" fill="#231f20" >error</text>
<line x1="135.30" y1="658.80" x2="135.30" y2="661.40" stroke="#2a2a2a" stroke-width="0.8" />
<text x="134.80" y="670.60" font-size="8.9" text-anchor="middle" fill="#231f20" >both</text>
<text x="134.80" y="680.60" font-size="8.9" text-anchor="middle" fill="#231f20" >error</text>
<text x="11.00" y="613.00" font-size="9.4" text-anchor="middle" fill="#231f20" transform="rotate(-90 11.00 613.00)" >Frac. correct target choice</text>
<rect x="83.4" y="567.90" width="9.6" height="3.7" fill="#f6964b"/>
<text x="96.20" y="572.00" font-size="6.85" fill="#333" >low uncertainty</text>
<rect x="83.4" y="575.70" width="9.6" height="3.7" fill="#5a8dc8"/>
<text x="96.20" y="579.80" font-size="6.85" fill="#333" >med. uncertainty</text>
<rect x="83.4" y="583.60" width="9.6" height="3.7" fill="#5eac5c"/>
<text x="96.20" y="587.70" font-size="6.85" fill="#333" >high unicertainty</text>
<line x1="41.30" y1="558.50" x2="55.50" y2="558.50" stroke="#7d7d7d" stroke-width="0.65" />
<text x="48.40" y="559.70" font-size="6.6" text-anchor="middle" fill="#8a8a8a" letter-spacing="-0.25" >***</text>
<line x1="41.30" y1="566.50" x2="48.00" y2="566.50" stroke="#7d7d7d" stroke-width="0.65" />
<text x="44.65" y="567.70" font-size="6.6" text-anchor="middle" fill="#8a8a8a" letter-spacing="-0.25" >***</text>
<line x1="48.80" y1="586.50" x2="55.50" y2="586.50" stroke="#7d7d7d" stroke-width="0.65" />
<text x="52.15" y="587.70" font-size="6.6" text-anchor="middle" fill="#8a8a8a" letter-spacing="-0.25" >***</text>
<line x1="70.00" y1="621.50" x2="85.00" y2="621.50" stroke="#7d7d7d" stroke-width="0.65" />
<text x="77.50" y="622.70" font-size="6.6" text-anchor="middle" fill="#8a8a8a" letter-spacing="-0.25" >***</text>
<line x1="78.00" y1="628.50" x2="85.00" y2="628.50" stroke="#7d7d7d" stroke-width="0.65" />
<text x="81.50" y="629.70" font-size="6.6" text-anchor="middle" fill="#8a8a8a" letter-spacing="-0.25" >***</text>
<line x1="70.00" y1="637.50" x2="77.50" y2="637.50" stroke="#7d7d7d" stroke-width="0.65" />
<text x="73.75" y="638.70" font-size="6.6" text-anchor="middle" fill="#8a8a8a" letter-spacing="-0.25" >***</text>
<line x1="99.30" y1="642.50" x2="113.80" y2="642.50" stroke="#7d7d7d" stroke-width="0.65" />
<text x="106.55" y="643.70" font-size="6.6" text-anchor="middle" fill="#8a8a8a" letter-spacing="-0.25" >*</text>
<line x1="107.00" y1="648.50" x2="113.80" y2="648.50" stroke="#7d7d7d" stroke-width="0.65" />
<text x="110.40" y="649.70" font-size="6.6" text-anchor="middle" fill="#8a8a8a" letter-spacing="-0.25" >**</text>
<line x1="99.30" y1="653.50" x2="106.30" y2="653.50" stroke="#7d7d7d" stroke-width="0.65" />
<text x="102.80" y="652.20" font-size="4.4" text-anchor="middle" fill="#8a8a8a" >ns</text>
<line x1="128.30" y1="622.50" x2="142.50" y2="622.50" stroke="#7d7d7d" stroke-width="0.65" />
<text x="135.40" y="623.70" font-size="6.6" text-anchor="middle" fill="#8a8a8a" letter-spacing="-0.25" >***</text>
<line x1="135.80" y1="630.50" x2="142.50" y2="630.50" stroke="#7d7d7d" stroke-width="0.65" />
<text x="139.15" y="631.70" font-size="6.6" text-anchor="middle" fill="#8a8a8a" letter-spacing="-0.25" >***</text>
<line x1="128.30" y1="638.50" x2="135.00" y2="638.50" stroke="#7d7d7d" stroke-width="0.65" />
<text x="131.65" y="639.70" font-size="6.6" text-anchor="middle" fill="#8a8a8a" letter-spacing="-0.25" >***</text>
<text x="171.00" y="380.20" font-size="20.5" fill="#111" font-weight="bold" >g</text>
<rect x="240.00" y="372.50" width="32.00" height="13.80" rx="5.0" fill="#dce4e5"/>
<text x="256.00" y="383.07" font-size="10.2" text-anchor="middle" fill="#231f20" >CAC</text>
<text x="295.80" y="408.00" font-size="9.1" text-anchor="middle" fill="#231f20" >cue uncertainity</text>
<rect x="260.3" y="414.70" width="72.0" height="21.1" fill="#b4b4b4"/>
<path d="M262.70,420.50 L265.80,421.10 L265.30,430.10 L262.20,429.50Z" fill="#ffffff"/>
<path d="M267.30,420.50 L270.40,421.10 L269.90,430.10 L266.80,429.50Z" fill="#1f6fc4"/>
<path d="M271.90,420.50 L275.00,421.10 L274.50,430.10 L271.40,429.50Z" fill="#e8202a"/>
<path d="M276.50,420.50 L279.60,421.10 L279.10,430.10 L276.00,429.50Z" fill="#ffffff"/>
<path d="M281.10,420.50 L284.20,421.10 L283.70,430.10 L280.60,429.50Z" fill="#ffffff"/>
<path d="M285.70,420.50 L288.80,421.10 L288.30,430.10 L285.20,429.50Z" fill="#e8202a"/>
<path d="M290.30,420.50 L293.40,421.10 L292.90,430.10 L289.80,429.50Z" fill="#ffffff"/>
<path d="M294.90,420.50 L298.00,421.10 L297.50,430.10 L294.40,429.50Z" fill="#e8202a"/>
<path d="M299.50,420.50 L302.60,421.10 L302.10,430.10 L299.00,429.50Z" fill="#ffffff"/>
<path d="M304.10,420.50 L307.20,421.10 L306.70,430.10 L303.60,429.50Z" fill="#e8202a"/>
<path d="M308.70,420.50 L311.80,421.10 L311.30,430.10 L308.20,429.50Z" fill="#ffffff"/>
<path d="M313.30,420.50 L316.40,421.10 L315.90,430.10 L312.80,429.50Z" fill="#ffffff"/>
<path d="M317.90,420.50 L321.00,421.10 L320.50,430.10 L317.40,429.50Z" fill="#1f6fc4"/>
<path d="M322.50,420.50 L325.60,421.10 L325.10,430.10 L322.00,429.50Z" fill="#1f6fc4"/>
<path d="M327.10,420.50 L330.20,421.10 L329.70,430.10 L326.60,429.50Z" fill="#ffffff"/>
<text x="180.80" y="422.60" font-size="9.5" fill="#231f20" >Congruence: 0.57</text>
<text x="181.00" y="433.80" font-size="9.5" fill="#231f20" >Cue density: 7</text>
<rect x="260.3" y="451.20" width="72.0" height="21.1" fill="#b4b4b4"/>
<path d="M262.70,457.00 L265.80,457.60 L265.30,466.60 L262.20,466.00Z" fill="#ffffff"/>
<path d="M267.30,457.00 L270.40,457.60 L269.90,466.60 L266.80,466.00Z" fill="#1f6fc4"/>
<path d="M271.90,457.00 L275.00,457.60 L274.50,466.60 L271.40,466.00Z" fill="#e8202a"/>
<path d="M276.50,457.00 L279.60,457.60 L279.10,466.60 L276.00,466.00Z" fill="#ffffff"/>
<path d="M281.10,457.00 L284.20,457.60 L283.70,466.60 L280.60,466.00Z" fill="#ffffff"/>
<path d="M285.70,457.00 L288.80,457.60 L288.30,466.60 L285.20,466.00Z" fill="#e8202a"/>
<path d="M290.30,457.00 L293.40,457.60 L292.90,466.60 L289.80,466.00Z" fill="#ffffff"/>
<path d="M294.90,457.00 L298.00,457.60 L297.50,466.60 L294.40,466.00Z" fill="#e8202a"/>
<path d="M299.50,457.00 L302.60,457.60 L302.10,466.60 L299.00,466.00Z" fill="#ffffff"/>
<path d="M304.10,457.00 L307.20,457.60 L306.70,466.60 L303.60,466.00Z" fill="#e8202a"/>
<path d="M308.70,457.00 L311.80,457.60 L311.30,466.60 L308.20,466.00Z" fill="#ffffff"/>
<path d="M313.30,457.00 L316.40,457.60 L315.90,466.60 L312.80,466.00Z" fill="#ffffff"/>
<path d="M317.90,457.00 L321.00,457.60 L320.50,466.60 L317.40,466.00Z" fill="#e8202a"/>
<path d="M322.50,457.00 L325.60,457.60 L325.10,466.60 L322.00,466.00Z" fill="#e8202a"/>
<path d="M327.10,457.00 L330.20,457.60 L329.70,466.60 L326.60,466.00Z" fill="#ffffff"/>
<text x="179.50" y="460.10" font-size="9.5" fill="#231f20" >Congruence: 0.85</text>
<text x="179.70" y="471.30" font-size="9.5" fill="#231f20" >Cue density: 7</text>
<rect x="260.3" y="486.30" width="72.0" height="21.1" fill="#b4b4b4"/>
<path d="M262.70,492.10 L265.80,492.70 L265.30,501.70 L262.20,501.10Z" fill="#e8202a"/>
<path d="M267.30,492.10 L270.40,492.70 L269.90,501.70 L266.80,501.10Z" fill="#1f6fc4"/>
<path d="M271.90,492.10 L275.00,492.70 L274.50,501.70 L271.40,501.10Z" fill="#e8202a"/>
<path d="M276.50,492.10 L279.60,492.70 L279.10,501.70 L276.00,501.10Z" fill="#1f6fc4"/>
<path d="M281.10,492.10 L284.20,492.70 L283.70,501.70 L280.60,501.10Z" fill="#e8202a"/>
<path d="M285.70,492.10 L288.80,492.70 L288.30,501.70 L285.20,501.10Z" fill="#e8202a"/>
<path d="M290.30,492.10 L293.40,492.70 L292.90,501.70 L289.80,501.10Z" fill="#1f6fc4"/>
<path d="M294.90,492.10 L298.00,492.70 L297.50,501.70 L294.40,501.10Z" fill="#1f6fc4"/>
<path d="M299.50,492.10 L302.60,492.70 L302.10,501.70 L299.00,501.10Z" fill="#e8202a"/>
<path d="M304.10,492.10 L307.20,492.70 L306.70,501.70 L303.60,501.10Z" fill="#e8202a"/>
<path d="M308.70,492.10 L311.80,492.70 L311.30,501.70 L308.20,501.10Z" fill="#ffffff"/>
<path d="M313.30,492.10 L316.40,492.70 L315.90,501.70 L312.80,501.10Z" fill="#1f6fc4"/>
<path d="M317.90,492.10 L321.00,492.70 L320.50,501.70 L317.40,501.10Z" fill="#e8202a"/>
<path d="M322.50,492.10 L325.60,492.70 L325.10,501.70 L322.00,501.10Z" fill="#e8202a"/>
<path d="M327.10,492.10 L330.20,492.70 L329.70,501.70 L326.60,501.10Z" fill="#1f6fc4"/>
<text x="179.50" y="496.00" font-size="9.5" fill="#231f20" >Congruence: 0.57</text>
<text x="179.70" y="507.30" font-size="9.5" fill="#231f20" >Cue density: 14</text>
<text x="176.80" y="550.50" font-size="20.5" fill="#111" font-weight="bold" >h</text>
<rect x="240.00" y="546.50" width="32.00" height="13.80" rx="5.0" fill="#dce4e5"/>
<text x="256.00" y="557.07" font-size="10.2" text-anchor="middle" fill="#231f20" >RDM</text>
<text x="292.50" y="579.00" font-size="9.1" text-anchor="middle" fill="#231f20" >cue uncertainity</text>
<text x="188.50" y="596.00" font-size="9.5" fill="#231f20" >Coherence: +0.6</text>
<text x="188.50" y="607.60" font-size="9.5" fill="#231f20" >Cue density: 10</text>
<text x="188.50" y="629.80" font-size="9.5" fill="#231f20" >Coherence: +0.8</text>
<text x="188.50" y="641.40" font-size="9.5" fill="#231f20" >Cue density: 10</text>
<text x="188.50" y="665.00" font-size="9.5" fill="#231f20" >Coherence: +0.6</text>
<text x="188.50" y="676.60" font-size="9.5" fill="#231f20" >Cue density: 15</text>
<ellipse cx="292.80" cy="600.00" rx="21.30" ry="16.20" fill="#c9c9c9" stroke="#6e6e6e" stroke-width="0.6"/>
<circle cx="289.60" cy="588.00" r="1.45" fill="#151515"/>
<line x1="289.60" y1="588.00" x2="294.30" y2="588.00" stroke="#151515" stroke-width="1.1" />
<path d="M297.10,588.00 L294.30,589.60 L294.30,586.40Z" stroke="none" fill="#151515" stroke-width="0.7" />
<circle cx="278.30" cy="593.70" r="1.45" fill="#151515"/>
<line x1="278.30" y1="593.70" x2="283.00" y2="593.70" stroke="#151515" stroke-width="1.1" />
<path d="M285.80,593.70 L283.00,595.30 L283.00,592.10Z" stroke="none" fill="#151515" stroke-width="0.7" />
<circle cx="285.80" cy="598.00" r="1.45" fill="#151515"/>
<line x1="285.80" y1="598.00" x2="290.50" y2="598.00" stroke="#151515" stroke-width="1.1" />
<path d="M293.30,598.00 L290.50,599.60 L290.50,596.40Z" stroke="none" fill="#151515" stroke-width="0.7" />
<circle cx="302.50" cy="606.20" r="1.45" fill="#151515"/>
<line x1="302.50" y1="606.20" x2="307.20" y2="606.20" stroke="#151515" stroke-width="1.1" />
<path d="M310.00,606.20 L307.20,607.80 L307.20,604.60Z" stroke="none" fill="#151515" stroke-width="0.7" />
<circle cx="280.80" cy="609.50" r="1.45" fill="#151515"/>
<line x1="280.80" y1="609.50" x2="285.50" y2="609.50" stroke="#151515" stroke-width="1.1" />
<path d="M288.30,609.50 L285.50,611.10 L285.50,607.90Z" stroke="none" fill="#151515" stroke-width="0.7" />
<circle cx="293.80" cy="612.30" r="1.45" fill="#151515"/>
<line x1="293.80" y1="612.30" x2="298.45" y2="611.65" stroke="#151515" stroke-width="1.1" />
<path d="M301.23,611.26 L298.68,613.23 L298.23,610.06Z" stroke="none" fill="#151515" stroke-width="0.7" />
<circle cx="303.80" cy="590.00" r="1.6" fill="#19a84a"/>
<line x1="303.80" y1="590.00" x2="300.25" y2="592.05" stroke="#19a84a" stroke-width="1.35" />
<path d="M298.26,593.20 L299.50,590.75 L301.00,593.35Z" stroke="none" fill="#19a84a" stroke-width="0.7" />
<circle cx="303.30" cy="597.50" r="1.6" fill="#19a84a"/>
<line x1="303.30" y1="597.50" x2="306.20" y2="600.40" stroke="#19a84a" stroke-width="1.35" />
<path d="M307.83,602.03 L305.14,601.46 L307.26,599.34Z" stroke="none" fill="#19a84a" stroke-width="0.7" />
<circle cx="280.30" cy="603.30" r="1.6" fill="#19a84a"/>
<line x1="280.30" y1="603.30" x2="276.94" y2="600.95" stroke="#19a84a" stroke-width="1.35" />
<path d="M275.06,599.63 L277.80,599.72 L276.08,602.18Z" stroke="none" fill="#19a84a" stroke-width="0.7" />
<circle cx="291.30" cy="606.00" r="1.6" fill="#19a84a"/>
<line x1="291.30" y1="606.00" x2="295.15" y2="604.60" stroke="#19a84a" stroke-width="1.35" />
<path d="M297.31,603.81 L295.67,606.01 L294.64,603.19Z" stroke="none" fill="#19a84a" stroke-width="0.7" />
<ellipse cx="292.80" cy="633.70" rx="21.30" ry="16.20" fill="#c9c9c9" stroke="#6e6e6e" stroke-width="0.6"/>
<circle cx="287.80" cy="622.40" r="1.45" fill="#151515"/>
<line x1="287.80" y1="622.40" x2="292.50" y2="622.40" stroke="#151515" stroke-width="1.1" />
<path d="M295.30,622.40 L292.50,624.00 L292.50,620.80Z" stroke="none" fill="#151515" stroke-width="0.7" />
<circle cx="278.30" cy="628.00" r="1.45" fill="#151515"/>
<line x1="278.30" y1="628.00" x2="283.00" y2="628.00" stroke="#151515" stroke-width="1.1" />
<path d="M285.80,628.00 L283.00,629.60 L283.00,626.40Z" stroke="none" fill="#151515" stroke-width="0.7" />
<circle cx="297.80" cy="627.20" r="1.45" fill="#151515"/>
<line x1="297.80" y1="627.20" x2="302.50" y2="627.20" stroke="#151515" stroke-width="1.1" />
<path d="M305.30,627.20 L302.50,628.80 L302.50,625.60Z" stroke="none" fill="#151515" stroke-width="0.7" />
<circle cx="286.00" cy="632.40" r="1.45" fill="#151515"/>
<line x1="286.00" y1="632.40" x2="290.70" y2="632.40" stroke="#151515" stroke-width="1.1" />
<path d="M293.50,632.40 L290.70,634.00 L290.70,630.80Z" stroke="none" fill="#151515" stroke-width="0.7" />
<circle cx="303.30" cy="633.50" r="1.45" fill="#151515"/>
<line x1="303.30" y1="633.50" x2="308.00" y2="633.50" stroke="#151515" stroke-width="1.1" />
<path d="M310.80,633.50 L308.00,635.10 L308.00,631.90Z" stroke="none" fill="#151515" stroke-width="0.7" />
<circle cx="302.30" cy="640.00" r="1.45" fill="#151515"/>
<line x1="302.30" y1="640.00" x2="307.00" y2="640.00" stroke="#151515" stroke-width="1.1" />
<path d="M309.80,640.00 L307.00,641.60 L307.00,638.40Z" stroke="none" fill="#151515" stroke-width="0.7" />
<circle cx="280.60" cy="643.20" r="1.45" fill="#151515"/>
<line x1="280.60" y1="643.20" x2="285.30" y2="643.20" stroke="#151515" stroke-width="1.1" />
<path d="M288.10,643.20 L285.30,644.80 L285.30,641.60Z" stroke="none" fill="#151515" stroke-width="0.7" />
<circle cx="292.30" cy="645.90" r="1.45" fill="#151515"/>
<line x1="292.30" y1="645.90" x2="296.98" y2="645.49" stroke="#151515" stroke-width="1.1" />
<path d="M299.77,645.25 L297.12,647.08 L296.84,643.90Z" stroke="none" fill="#151515" stroke-width="0.7" />
<circle cx="280.30" cy="637.40" r="1.6" fill="#19a84a"/>
<line x1="280.30" y1="637.40" x2="276.94" y2="635.05" stroke="#19a84a" stroke-width="1.35" />
<path d="M275.06,633.73 L277.80,633.82 L276.08,636.28Z" stroke="none" fill="#19a84a" stroke-width="0.7" />
<circle cx="291.30" cy="640.00" r="1.6" fill="#19a84a"/>
<line x1="291.30" y1="640.00" x2="295.15" y2="638.60" stroke="#19a84a" stroke-width="1.35" />
<path d="M297.31,637.81 L295.67,640.01 L294.64,637.19Z" stroke="none" fill="#19a84a" stroke-width="0.7" />
<ellipse cx="292.80" cy="668.70" rx="21.30" ry="16.20" fill="#c9c9c9" stroke="#6e6e6e" stroke-width="0.6"/>
<circle cx="288.80" cy="655.00" r="1.45" fill="#151515"/>
<line x1="288.80" y1="655.00" x2="293.50" y2="655.00" stroke="#151515" stroke-width="1.1" />
<path d="M296.30,655.00 L293.50,656.60 L293.50,653.40Z" stroke="none" fill="#151515" stroke-width="0.7" />
<circle cx="289.80" cy="660.00" r="1.45" fill="#151515"/>
<line x1="289.80" y1="660.00" x2="294.50" y2="660.00" stroke="#151515" stroke-width="1.1" />
<path d="M297.30,660.00 L294.50,661.60 L294.50,658.40Z" stroke="none" fill="#151515" stroke-width="0.7" />
<circle cx="282.30" cy="664.70" r="1.45" fill="#151515"/>
<line x1="282.30" y1="664.70" x2="287.00" y2="664.70" stroke="#151515" stroke-width="1.1" />
<path d="M289.80,664.70 L287.00,666.30 L287.00,663.10Z" stroke="none" fill="#151515" stroke-width="0.7" />
<circle cx="297.00" cy="667.50" r="1.45" fill="#151515"/>
<line x1="297.00" y1="667.50" x2="301.70" y2="667.50" stroke="#151515" stroke-width="1.1" />
<path d="M304.50,667.50 L301.70,669.10 L301.70,665.90Z" stroke="none" fill="#151515" stroke-width="0.7" />
<circle cx="289.80" cy="673.00" r="1.45" fill="#151515"/>
<line x1="289.80" y1="673.00" x2="294.50" y2="673.00" stroke="#151515" stroke-width="1.1" />
<path d="M297.30,673.00 L294.50,674.60 L294.50,671.40Z" stroke="none" fill="#151515" stroke-width="0.7" />
<circle cx="303.30" cy="673.00" r="1.45" fill="#151515"/>
<line x1="303.30" y1="673.00" x2="308.00" y2="673.00" stroke="#151515" stroke-width="1.1" />
<path d="M310.80,673.00 L308.00,674.60 L308.00,671.40Z" stroke="none" fill="#151515" stroke-width="0.7" />
<circle cx="280.80" cy="675.70" r="1.45" fill="#151515"/>
<line x1="280.80" y1="675.70" x2="285.50" y2="675.70" stroke="#151515" stroke-width="1.1" />
<path d="M288.30,675.70 L285.50,677.30 L285.50,674.10Z" stroke="none" fill="#151515" stroke-width="0.7" />
<circle cx="300.80" cy="676.00" r="1.45" fill="#151515"/>
<line x1="300.80" y1="676.00" x2="305.50" y2="676.00" stroke="#151515" stroke-width="1.1" />
<path d="M308.30,676.00 L305.50,677.60 L305.50,674.40Z" stroke="none" fill="#151515" stroke-width="0.7" />
<circle cx="284.30" cy="680.70" r="1.45" fill="#151515"/>
<line x1="284.30" y1="680.70" x2="289.00" y2="680.70" stroke="#151515" stroke-width="1.1" />
<path d="M291.80,680.70 L289.00,682.30 L289.00,679.10Z" stroke="none" fill="#151515" stroke-width="0.7" />
<circle cx="279.30" cy="663.70" r="1.6" fill="#19a84a"/>
<line x1="279.30" y1="663.70" x2="282.66" y2="661.35" stroke="#19a84a" stroke-width="1.35" />
<path d="M284.54,660.03 L283.52,662.58 L281.80,660.12Z" stroke="none" fill="#19a84a" stroke-width="0.7" />
<circle cx="304.30" cy="659.70" r="1.6" fill="#19a84a"/>
<line x1="304.30" y1="659.70" x2="300.75" y2="661.75" stroke="#19a84a" stroke-width="1.35" />
<path d="M298.76,662.90 L300.00,660.45 L301.50,663.05Z" stroke="none" fill="#19a84a" stroke-width="0.7" />
<circle cx="304.80" cy="664.70" r="1.6" fill="#19a84a"/>
<line x1="304.80" y1="664.70" x2="307.44" y2="667.84" stroke="#19a84a" stroke-width="1.35" />
<path d="M308.91,669.60 L306.29,668.80 L308.58,666.88Z" stroke="none" fill="#19a84a" stroke-width="0.7" />
<circle cx="281.30" cy="671.20" r="1.6" fill="#19a84a"/>
<line x1="281.30" y1="671.20" x2="277.94" y2="668.85" stroke="#19a84a" stroke-width="1.35" />
<path d="M276.06,667.53 L278.80,667.62 L277.08,670.08Z" stroke="none" fill="#19a84a" stroke-width="0.7" />
<circle cx="285.80" cy="670.20" r="1.6" fill="#19a84a"/>
<line x1="285.80" y1="670.20" x2="289.52" y2="668.47" stroke="#19a84a" stroke-width="1.35" />
<path d="M291.60,667.50 L290.15,669.83 L288.88,667.11Z" stroke="none" fill="#19a84a" stroke-width="0.7" />
<circle cx="296.80" cy="682.20" r="1.6" fill="#19a84a"/>
<line x1="296.80" y1="682.20" x2="296.80" y2="678.10" stroke="#19a84a" stroke-width="1.35" />
<path d="M296.80,675.80 L298.30,678.10 L295.30,678.10Z" stroke="none" fill="#19a84a" stroke-width="0.7" />
<text x="355.90" y="380.80" font-size="20.5" fill="#111" font-weight="bold" >i</text>
<text x="527.00" y="372.80" font-size="10.3" text-anchor="middle" fill="#111" textLength="92.0" lengthAdjust="spacingAndGlyphs" >Various cue sparsity</text>
<rect x="425.00" y="372.00" width="32.00" height="14.00" rx="5.2" fill="#dce4e5"/>
<text x="441.00" y="382.67" font-size="10.2" text-anchor="middle" fill="#231f20" >CAC</text>
<rect x="596.25" y="372.00" width="31.50" height="14.00" rx="5.2" fill="#dce4e5"/>
<text x="612.00" y="382.67" font-size="10.2" text-anchor="middle" fill="#231f20" >RDM</text>
<clipPath id="pc3"><rect x="390.50" y="389.10" width="105.50" height="106.40"/></clipPath>
<g clip-path="url(#pc3)">
<path d="M396.80,484.22 L397.98,483.93 L399.17,483.61 L400.35,483.26 L401.53,482.87 L402.72,482.46 L403.90,482.02 L405.08,481.56 L406.27,481.08 L407.45,480.58 L408.64,480.05 L409.82,479.47 L411.00,478.84 L412.19,478.16 L413.37,477.46 L414.55,476.73 L415.74,475.98 L416.92,475.24 L418.10,474.49 L419.29,473.76 L420.47,473.01 L421.65,472.25 L422.84,471.48 L424.02,470.70 L425.21,469.91 L426.39,469.11 L427.57,468.31 L428.76,467.49 L429.94,466.68 L431.12,465.86 L432.31,465.03 L433.49,464.19 L434.67,463.35 L435.86,462.50 L437.04,461.64 L438.22,460.78 L439.41,459.91 L440.59,459.04 L441.77,458.16 L442.96,457.27 L444.14,456.37 L445.33,455.46 L446.51,454.55 L447.69,453.63 L448.88,452.73 L450.06,451.83 L451.24,450.95 L452.43,450.09 L453.61,449.23 L454.79,448.38 L455.98,447.54 L457.16,446.70 L458.34,445.88 L459.53,445.05 L460.71,444.24 L461.89,443.42 L463.08,442.62 L464.26,441.82 L465.45,441.03 L466.63,440.25 L467.81,439.47 L469.00,438.69 L470.18,437.92 L471.36,437.16 L472.55,436.39 L473.73,435.63 L474.91,434.86 L476.10,434.10 L477.28,433.34 L478.46,432.57 L479.65,431.81 L480.83,431.06 L482.02,430.30 L483.20,429.55 L484.38,428.79 L485.57,428.04 L486.75,427.29 L487.93,426.55 L489.12,425.80 L490.30,425.06 L490.30,442.81 L489.12,443.44 L487.93,444.08 L486.75,444.74 L485.57,445.40 L484.38,446.08 L483.20,446.76 L482.02,447.46 L480.83,448.17 L479.65,448.89 L478.46,449.61 L477.28,450.35 L476.10,451.09 L474.91,451.85 L473.73,452.62 L472.55,453.40 L471.36,454.20 L470.18,455.01 L469.00,455.83 L467.81,456.67 L466.63,457.50 L465.45,458.35 L464.26,459.20 L463.08,460.05 L461.89,460.91 L460.71,461.79 L459.53,462.69 L458.34,463.59 L457.16,464.50 L455.98,465.42 L454.79,466.33 L453.61,467.23 L452.43,468.13 L451.24,469.01 L450.06,469.90 L448.88,470.78 L447.69,471.66 L446.51,472.54 L445.33,473.41 L444.14,474.28 L442.96,475.13 L441.77,475.96 L440.59,476.78 L439.41,477.59 L438.22,478.38 L437.04,479.16 L435.86,479.93 L434.67,480.70 L433.49,481.45 L432.31,482.20 L431.12,482.94 L429.94,483.68 L428.76,484.41 L427.57,485.15 L426.39,485.88 L425.21,486.60 L424.02,487.32 L422.84,488.02 L421.65,488.71 L420.47,489.38 L419.29,490.03 L418.10,490.66 L416.92,491.27 L415.74,491.87 L414.55,492.46 L413.37,493.03 L412.19,493.59 L411.00,494.15 L409.82,494.69 L408.64,495.23 L407.45,495.75 L406.27,496.28 L405.08,496.79 L403.90,497.30 L402.72,497.79 L401.53,498.28 L400.35,498.76 L399.17,499.23 L397.98,499.70 L396.80,500.15Z" stroke="none" fill="#e3e3e3" stroke-width="0.7" fill-opacity="0.95"/>
<path d="M396.80,475.88 L397.98,475.75 L399.17,475.53 L400.35,475.22 L401.53,474.85 L402.72,474.41 L403.90,473.93 L405.08,473.40 L406.27,472.84 L407.45,472.26 L408.64,471.63 L409.82,470.86 L411.00,469.96 L412.19,468.95 L413.37,467.85 L414.55,466.68 L415.74,465.46 L416.92,464.22 L418.10,462.96 L419.29,461.70 L420.47,460.36 L421.65,458.93 L422.84,457.43 L424.02,455.88 L425.21,454.30 L426.39,452.71 L427.57,451.13 L428.76,449.59 L429.94,448.10 L431.12,446.61 L432.31,445.12 L433.49,443.62 L434.67,442.13 L435.86,440.65 L437.04,439.21 L438.22,437.80 L439.41,436.44 L440.59,435.14 L441.77,433.90 L442.96,432.67 L444.14,431.47 L445.33,430.30 L446.51,429.16 L447.69,428.06 L448.88,427.01 L450.06,426.00 L451.24,425.04 L452.43,424.13 L453.61,423.25 L454.79,422.41 L455.98,421.60 L457.16,420.82 L458.34,420.07 L459.53,419.34 L460.71,418.64 L461.89,417.97 L463.08,417.32 L464.26,416.70 L465.45,416.09 L466.63,415.49 L467.81,414.92 L469.00,414.36 L470.18,413.82 L471.36,413.29 L472.55,412.78 L473.73,412.30 L474.91,411.82 L476.10,411.37 L477.28,410.93 L478.46,410.50 L479.65,410.08 L480.83,409.66 L482.02,409.27 L483.20,408.88 L484.38,408.50 L485.57,408.14 L486.75,407.80 L487.93,407.47 L489.12,407.15 L490.30,406.86 L490.30,422.78 L489.12,422.96 L487.93,423.17 L486.75,423.41 L485.57,423.67 L484.38,423.96 L483.20,424.28 L482.02,424.61 L480.83,424.97 L479.65,425.34 L478.46,425.73 L477.28,426.13 L476.10,426.54 L474.91,426.98 L473.73,427.46 L472.55,427.98 L471.36,428.55 L470.18,429.14 L469.00,429.77 L467.81,430.42 L466.63,431.10 L465.45,431.79 L464.26,432.51 L463.08,433.23 L461.89,433.97 L460.71,434.76 L459.53,435.58 L458.34,436.44 L457.16,437.33 L455.98,438.25 L454.79,439.21 L453.61,440.19 L452.43,441.20 L451.24,442.24 L450.06,443.33 L448.88,444.47 L447.69,445.65 L446.51,446.87 L445.33,448.12 L444.14,449.40 L442.96,450.71 L441.77,452.03 L440.59,453.36 L439.41,454.75 L438.22,456.20 L437.04,457.70 L435.86,459.23 L434.67,460.76 L433.49,462.29 L432.31,463.79 L431.12,465.23 L429.94,466.62 L428.76,467.95 L427.57,469.26 L426.39,470.54 L425.21,471.80 L424.02,473.04 L422.84,474.25 L421.65,475.43 L420.47,476.58 L419.29,477.70 L418.10,478.79 L416.92,479.84 L415.74,480.86 L414.55,481.85 L413.37,482.82 L412.19,483.78 L411.00,484.73 L409.82,485.66 L408.64,486.60 L407.45,487.53 L406.27,488.46 L405.08,489.38 L403.90,490.30 L402.72,491.20 L401.53,492.10 L400.35,492.99 L399.17,493.87 L397.98,494.74 L396.80,495.60Z" stroke="none" fill="#c5c5c5" stroke-width="0.7" fill-opacity="0.95"/>
<path d="M396.80,465.26 L397.98,464.09 L399.17,462.86 L400.35,461.57 L401.53,460.23 L402.72,458.84 L403.90,457.41 L405.08,455.92 L406.27,454.40 L407.45,452.83 L408.64,451.20 L409.82,449.45 L411.00,447.60 L412.19,445.67 L413.37,443.70 L414.55,441.72 L415.74,439.75 L416.92,437.82 L418.10,435.97 L419.29,434.20 L420.47,432.45 L421.65,430.70 L422.84,428.97 L424.02,427.26 L425.21,425.60 L426.39,423.99 L427.57,422.44 L428.76,420.97 L429.94,419.59 L431.12,418.26 L432.31,416.96 L433.49,415.69 L434.67,414.47 L435.86,413.30 L437.04,412.19 L438.22,411.14 L439.41,410.17 L440.59,409.28 L441.77,408.46 L442.96,407.70 L444.14,406.98 L445.33,406.29 L446.51,405.64 L447.69,405.03 L448.88,404.44 L450.06,403.87 L451.24,403.32 L452.43,402.78 L453.61,402.26 L454.79,401.75 L455.98,401.26 L457.16,400.79 L458.34,400.34 L459.53,399.91 L460.71,399.49 L461.89,399.10 L463.08,398.73 L464.26,398.38 L465.45,398.04 L466.63,397.72 L467.81,397.42 L469.00,397.12 L470.18,396.83 L471.36,396.55 L472.55,396.27 L473.73,396.00 L474.91,395.73 L476.10,395.46 L477.28,395.18 L478.46,394.92 L479.65,394.65 L480.83,394.39 L482.02,394.13 L483.20,393.88 L484.38,393.63 L485.57,393.38 L486.75,393.14 L487.93,392.91 L489.12,392.67 L490.30,392.44 L490.30,400.79 L489.12,400.83 L487.93,400.89 L486.75,400.97 L485.57,401.07 L484.38,401.18 L483.20,401.31 L482.02,401.45 L480.83,401.61 L479.65,401.77 L478.46,401.94 L477.28,402.11 L476.10,402.29 L474.91,402.48 L473.73,402.71 L472.55,402.96 L471.36,403.24 L470.18,403.54 L469.00,403.86 L467.81,404.20 L466.63,404.56 L465.45,404.93 L464.26,405.31 L463.08,405.70 L461.89,406.10 L460.71,406.54 L459.53,407.00 L458.34,407.49 L457.16,408.00 L455.98,408.54 L454.79,409.11 L453.61,409.70 L452.43,410.31 L451.24,410.95 L450.06,411.62 L448.88,412.33 L447.69,413.08 L446.51,413.87 L445.33,414.70 L444.14,415.56 L442.96,416.47 L441.77,417.42 L440.59,418.41 L439.41,419.46 L438.22,420.59 L437.04,421.78 L435.86,423.04 L434.67,424.35 L433.49,425.73 L432.31,427.16 L431.12,428.65 L429.94,430.18 L428.76,431.81 L427.57,433.55 L426.39,435.41 L425.21,437.35 L424.02,439.36 L422.84,441.42 L421.65,443.52 L420.47,445.62 L419.29,447.72 L418.10,449.81 L416.92,451.97 L415.74,454.19 L414.55,456.45 L413.37,458.73 L412.19,461.01 L411.00,463.26 L409.82,465.46 L408.64,467.60 L407.45,469.65 L406.27,471.65 L405.08,473.62 L403.90,475.56 L402.72,477.47 L401.53,479.35 L400.35,481.19 L399.17,483.00 L397.98,484.77 L396.80,486.50Z" stroke="none" fill="#8c8c8c" stroke-width="0.7" fill-opacity="0.95"/>
<path d="M396.80,492.57 L397.98,492.13 L399.17,491.69 L400.35,491.22 L401.53,490.75 L402.72,490.26 L403.90,489.76 L405.08,489.24 L406.27,488.71 L407.45,488.18 L408.64,487.62 L409.82,487.05 L411.00,486.46 L412.19,485.85 L413.37,485.23 L414.55,484.60 L415.74,483.95 L416.92,483.30 L418.10,482.64 L419.29,481.98 L420.47,481.30 L421.65,480.61 L422.84,479.91 L424.02,479.20 L425.21,478.47 L426.39,477.74 L427.57,477.00 L428.76,476.25 L429.94,475.49 L431.12,474.71 L432.31,473.93 L433.49,473.13 L434.67,472.32 L435.86,471.50 L437.04,470.67 L438.22,469.84 L439.41,468.99 L440.59,468.14 L441.77,467.28 L442.96,466.41 L444.14,465.52 L445.33,464.62 L446.51,463.72 L447.69,462.81 L448.88,461.90 L450.06,460.98 L451.24,460.07 L452.43,459.17 L453.61,458.25 L454.79,457.32 L455.98,456.39 L457.16,455.46 L458.34,454.53 L459.53,453.62 L460.71,452.71 L461.89,451.82 L463.08,450.95 L464.26,450.09 L465.45,449.24 L466.63,448.40 L467.81,447.57 L469.00,446.74 L470.18,445.92 L471.36,445.12 L472.55,444.32 L473.73,443.53 L474.91,442.75 L476.10,441.99 L477.28,441.23 L478.46,440.48 L479.65,439.73 L480.83,439.00 L482.02,438.27 L483.20,437.55 L484.38,436.83 L485.57,436.13 L486.75,435.43 L487.93,434.75 L489.12,434.07 L490.30,433.40" stroke="#c4c4c4" fill="none" stroke-width="0.8" stroke-linejoin="round"/>
<path d="M396.80,485.74 L397.98,485.24 L399.17,484.70 L400.35,484.12 L401.53,483.50 L402.72,482.84 L403.90,482.15 L405.08,481.43 L406.27,480.68 L407.45,479.90 L408.64,479.10 L409.82,478.23 L411.00,477.31 L412.19,476.34 L413.37,475.33 L414.55,474.28 L415.74,473.20 L416.92,472.08 L418.10,470.94 L419.29,469.78 L420.47,468.56 L421.65,467.28 L422.84,465.96 L424.02,464.59 L425.21,463.19 L426.39,461.78 L427.57,460.35 L428.76,458.92 L429.94,457.51 L431.12,456.06 L432.31,454.57 L433.49,453.05 L434.67,451.52 L435.86,449.99 L437.04,448.48 L438.22,447.01 L439.41,445.59 L440.59,444.25 L441.77,442.97 L442.96,441.72 L444.14,440.49 L445.33,439.29 L446.51,438.12 L447.69,436.99 L448.88,435.90 L450.06,434.86 L451.24,433.86 L452.43,432.90 L453.61,431.98 L454.79,431.09 L455.98,430.23 L457.16,429.40 L458.34,428.59 L459.53,427.82 L460.71,427.07 L461.89,426.35 L463.08,425.66 L464.26,424.98 L465.45,424.33 L466.63,423.69 L467.81,423.07 L469.00,422.47 L470.18,421.88 L471.36,421.32 L472.55,420.77 L473.73,420.25 L474.91,419.74 L476.10,419.26 L477.28,418.78 L478.46,418.32 L479.65,417.87 L480.83,417.43 L482.02,417.01 L483.20,416.59 L484.38,416.19 L485.57,415.81 L486.75,415.44 L487.93,415.09 L489.12,414.76 L490.30,414.44" stroke="#8a8a8a" fill="none" stroke-width="0.8" stroke-linejoin="round"/>
<path d="M396.80,476.64 L397.98,475.07 L399.17,473.46 L400.35,471.82 L401.53,470.14 L402.72,468.43 L403.90,466.68 L405.08,464.90 L406.27,463.10 L407.45,461.26 L408.64,459.37 L409.82,457.40 L411.00,455.36 L412.19,453.27 L413.37,451.16 L414.55,449.04 L415.74,446.94 L416.92,444.88 L418.10,442.89 L419.29,440.96 L420.47,439.03 L421.65,437.11 L422.84,435.20 L424.02,433.31 L425.21,431.47 L426.39,429.70 L427.57,428.00 L428.76,426.39 L429.94,424.89 L431.12,423.45 L432.31,422.06 L433.49,420.71 L434.67,419.41 L435.86,418.17 L437.04,416.98 L438.22,415.87 L439.41,414.82 L440.59,413.85 L441.77,412.94 L442.96,412.08 L444.14,411.27 L445.33,410.49 L446.51,409.76 L447.69,409.06 L448.88,408.39 L450.06,407.75 L451.24,407.13 L452.43,406.55 L453.61,405.98 L454.79,405.43 L455.98,404.90 L457.16,404.39 L458.34,403.91 L459.53,403.44 L460.71,403.01 L461.89,402.60 L463.08,402.22 L464.26,401.85 L465.45,401.50 L466.63,401.16 L467.81,400.83 L469.00,400.51 L470.18,400.21 L471.36,399.93 L472.55,399.66 L473.73,399.41 L474.91,399.17 L476.10,398.95 L477.28,398.74 L478.46,398.54 L479.65,398.34 L480.83,398.15 L482.02,397.97 L483.20,397.79 L484.38,397.63 L485.57,397.48 L486.75,397.34 L487.93,397.21 L489.12,397.10 L490.30,397.00" stroke="#222222" fill="none" stroke-width="1.25" stroke-linejoin="round"/>
</g>
<line x1="390.50" y1="389.10" x2="390.50" y2="495.90" stroke="#2a2a2a" stroke-width="0.8" />
<line x1="390.10" y1="495.50" x2="496.00" y2="495.50" stroke="#2a2a2a" stroke-width="0.8" />
<line x1="387.90" y1="495.60" x2="390.50" y2="495.60" stroke="#2a2a2a" stroke-width="0.8" />
<text x="386.30" y="498.80" font-size="8.9" text-anchor="end" fill="#231f20" >0.3</text>
<line x1="387.90" y1="465.26" x2="390.50" y2="465.26" stroke="#2a2a2a" stroke-width="0.8" />
<text x="386.30" y="468.46" font-size="8.9" text-anchor="end" fill="#231f20" >0.5</text>
<line x1="387.90" y1="434.92" x2="390.50" y2="434.92" stroke="#2a2a2a" stroke-width="0.8" />
<text x="386.30" y="438.12" font-size="8.9" text-anchor="end" fill="#231f20" >0.7</text>
<line x1="387.90" y1="404.58" x2="390.50" y2="404.58" stroke="#2a2a2a" stroke-width="0.8" />
<text x="386.30" y="407.78" font-size="8.9" text-anchor="end" fill="#231f20" >0.9</text>
<line x1="396.80" y1="495.50" x2="396.80" y2="498.10" stroke="#2a2a2a" stroke-width="0.8" />
<text x="396.80" y="505.70" font-size="8.9" text-anchor="middle" fill="#231f20" >0.5</text>
<line x1="418.80" y1="495.50" x2="418.80" y2="498.10" stroke="#2a2a2a" stroke-width="0.8" />
<text x="418.80" y="505.70" font-size="8.9" text-anchor="middle" fill="#231f20" >0.6</text>
<line x1="440.80" y1="495.50" x2="440.80" y2="498.10" stroke="#2a2a2a" stroke-width="0.8" />
<text x="440.80" y="505.70" font-size="8.9" text-anchor="middle" fill="#231f20" >0.7</text>
<line x1="462.80" y1="495.50" x2="462.80" y2="498.10" stroke="#2a2a2a" stroke-width="0.8" />
<text x="462.80" y="505.70" font-size="8.9" text-anchor="middle" fill="#231f20" >0.8</text>
<line x1="484.80" y1="495.50" x2="484.80" y2="498.10" stroke="#2a2a2a" stroke-width="0.8" />
<text x="484.80" y="505.70" font-size="8.9" text-anchor="middle" fill="#231f20" >0.9</text>
<text x="439.50" y="517.30" font-size="9.4" text-anchor="middle" fill="#231f20" >LP/HP cue congruence</text>
<text x="369.80" y="444.70" font-size="9.4" text-anchor="middle" fill="#231f20" transform="rotate(-90 369.80 444.70)" >Frac. correct target choice</text>
<text x="395.50" y="399.60" font-size="6.9" fill="#222222" textLength="32.5" lengthAdjust="spacingAndGlyphs" >AUC=0.33</text>
<text x="395.50" y="409.30" font-size="6.9" fill="#9a9a9a" textLength="32.5" lengthAdjust="spacingAndGlyphs" >AUC=0.26</text>
<text x="395.50" y="417.60" font-size="6.9" fill="#cfcfcf" textLength="32.5" lengthAdjust="spacingAndGlyphs" >AUC=0.21</text>
<line x1="455.00" y1="472.50" x2="467.00" y2="472.50" stroke="#8c8c8c" stroke-width="2.2" />
<line x1="455.00" y1="472.50" x2="467.00" y2="472.50" stroke="#222222" stroke-width="0.8" />
<line x1="455.00" y1="479.50" x2="467.00" y2="479.50" stroke="#8a8a8a" stroke-width="0.8" />
<line x1="455.00" y1="487.50" x2="467.00" y2="487.50" stroke="#c4c4c4" stroke-width="0.8" />
<text x="470.00" y="475.00" font-size="7.0" fill="#231f20" textLength="27.5" lengthAdjust="spacingAndGlyphs" >baseline</text>
<text x="470.00" y="482.20" font-size="7.0" fill="#231f20" textLength="40.0" lengthAdjust="spacingAndGlyphs" >sparsity=0.5</text>
<text x="470.00" y="489.80" font-size="7.0" fill="#231f20" textLength="40.0" lengthAdjust="spacingAndGlyphs" >sparsity=0.7</text>
<clipPath id="pc4"><rect x="559.50" y="389.10" width="106.70" height="106.40"/></clipPath>
<g clip-path="url(#pc4)">
<path d="M566.20,462.23 L567.37,462.01 L568.53,461.74 L569.70,461.44 L570.86,461.10 L572.03,460.72 L573.19,460.32 L574.36,459.89 L575.52,459.44 L576.69,458.97 L577.85,458.41 L579.02,457.77 L580.18,457.08 L581.35,456.35 L582.51,455.61 L583.68,454.87 L584.84,454.15 L586.01,453.48 L587.17,452.84 L588.34,452.22 L589.50,451.60 L590.67,450.99 L591.83,450.38 L593.00,449.79 L594.16,449.20 L595.33,448.62 L596.49,448.06 L597.66,447.50 L598.82,446.94 L599.99,446.40 L601.15,445.86 L602.32,445.33 L603.48,444.81 L604.65,444.30 L605.81,443.80 L606.98,443.31 L608.14,442.83 L609.31,442.35 L610.47,441.89 L611.64,441.43 L612.80,440.98 L613.97,440.53 L615.13,440.09 L616.30,439.64 L617.46,439.19 L618.63,438.74 L619.79,438.28 L620.96,437.83 L622.12,437.40 L623.29,436.98 L624.45,436.58 L625.62,436.22 L626.78,435.88 L627.95,435.56 L629.11,435.25 L630.28,434.96 L631.44,434.68 L632.61,434.41 L633.77,434.15 L634.94,433.90 L636.10,433.65 L637.27,433.42 L638.43,433.19 L639.60,432.97 L640.76,432.76 L641.93,432.55 L643.09,432.35 L644.26,432.15 L645.42,431.95 L646.59,431.75 L647.75,431.56 L648.92,431.36 L650.08,431.17 L651.25,430.98 L652.41,430.80 L653.58,430.62 L654.74,430.44 L655.91,430.26 L657.07,430.08 L658.24,429.91 L658.24,444.33 L657.07,444.55 L655.91,444.78 L654.74,445.02 L653.58,445.27 L652.41,445.52 L651.25,445.78 L650.08,446.04 L648.92,446.31 L647.75,446.58 L646.59,446.86 L645.42,447.15 L644.26,447.44 L643.09,447.74 L641.93,448.05 L640.76,448.37 L639.60,448.69 L638.43,449.02 L637.27,449.36 L636.10,449.71 L634.94,450.07 L633.77,450.43 L632.61,450.80 L631.44,451.18 L630.28,451.57 L629.11,451.97 L627.95,452.38 L626.78,452.80 L625.62,453.23 L624.45,453.67 L623.29,454.13 L622.12,454.59 L620.96,455.07 L619.79,455.56 L618.63,456.06 L617.46,456.56 L616.30,457.07 L615.13,457.58 L613.97,458.11 L612.80,458.66 L611.64,459.21 L610.47,459.76 L609.31,460.33 L608.14,460.89 L606.98,461.45 L605.81,462.01 L604.65,462.58 L603.48,463.15 L602.32,463.72 L601.15,464.30 L599.99,464.87 L598.82,465.44 L597.66,466.01 L596.49,466.57 L595.33,467.12 L594.16,467.66 L593.00,468.20 L591.83,468.73 L590.67,469.26 L589.50,469.78 L588.34,470.31 L587.17,470.84 L586.01,471.37 L584.84,471.89 L583.68,472.40 L582.51,472.89 L581.35,473.39 L580.18,473.91 L579.02,474.44 L577.85,474.99 L576.69,475.59 L575.52,476.23 L574.36,476.91 L573.19,477.64 L572.03,478.40 L570.86,479.20 L569.70,480.03 L568.53,480.89 L567.37,481.79 L566.20,482.71Z" stroke="none" fill="#e3e3e3" stroke-width="0.7" fill-opacity="0.95"/>
<path d="M566.20,466.02 L567.37,464.91 L568.53,463.79 L569.70,462.63 L570.86,461.46 L572.03,460.26 L573.19,459.04 L574.36,457.80 L575.52,456.54 L576.69,455.26 L577.85,453.90 L579.02,452.49 L580.18,451.04 L581.35,449.58 L582.51,448.14 L583.68,446.73 L584.84,445.38 L586.01,444.12 L587.17,442.93 L588.34,441.77 L589.50,440.64 L590.67,439.54 L591.83,438.47 L593.00,437.44 L594.16,436.45 L595.33,435.50 L596.49,434.58 L597.66,433.68 L598.82,432.80 L599.99,431.95 L601.15,431.13 L602.32,430.34 L603.48,429.58 L604.65,428.87 L605.81,428.20 L606.98,427.57 L608.14,426.99 L609.31,426.43 L610.47,425.91 L611.64,425.40 L612.80,424.90 L613.97,424.40 L615.13,423.90 L616.30,423.39 L617.46,422.88 L618.63,422.37 L619.79,421.87 L620.96,421.38 L622.12,420.88 L623.29,420.39 L624.45,419.90 L625.62,419.41 L626.78,418.92 L627.95,418.43 L629.11,417.94 L630.28,417.45 L631.44,416.96 L632.61,416.48 L633.77,416.01 L634.94,415.55 L636.10,415.10 L637.27,414.67 L638.43,414.23 L639.60,413.80 L640.76,413.39 L641.93,412.98 L643.09,412.58 L644.26,412.20 L645.42,411.83 L646.59,411.47 L647.75,411.12 L648.92,410.78 L650.08,410.45 L651.25,410.12 L652.41,409.81 L653.58,409.50 L654.74,409.20 L655.91,408.91 L657.07,408.64 L658.24,408.37 L658.24,422.03 L657.07,422.29 L655.91,422.57 L654.74,422.85 L653.58,423.15 L652.41,423.46 L651.25,423.78 L650.08,424.10 L648.92,424.43 L647.75,424.78 L646.59,425.12 L645.42,425.48 L644.26,425.84 L643.09,426.22 L641.93,426.61 L640.76,427.02 L639.60,427.43 L638.43,427.86 L637.27,428.30 L636.10,428.75 L634.94,429.22 L633.77,429.71 L632.61,430.21 L631.44,430.73 L630.28,431.26 L629.11,431.81 L627.95,432.38 L626.78,432.96 L625.62,433.55 L624.45,434.16 L623.29,434.81 L622.12,435.47 L620.96,436.15 L619.79,436.84 L618.63,437.54 L617.46,438.25 L616.30,438.96 L615.13,439.67 L613.97,440.39 L612.80,441.12 L611.64,441.86 L610.47,442.61 L609.31,443.37 L608.14,444.13 L606.98,444.89 L605.81,445.66 L604.65,446.44 L603.48,447.21 L602.32,447.99 L601.15,448.78 L599.99,449.57 L598.82,450.38 L597.66,451.20 L596.49,452.04 L595.33,452.90 L594.16,453.76 L593.00,454.62 L591.83,455.50 L590.67,456.41 L589.50,457.33 L588.34,458.29 L587.17,459.29 L586.01,460.34 L584.84,461.45 L583.68,462.63 L582.51,463.86 L581.35,465.13 L580.18,466.44 L579.02,467.76 L577.85,469.09 L576.69,470.42 L575.52,471.74 L574.36,473.06 L573.19,474.40 L572.03,475.75 L570.86,477.12 L569.70,478.50 L568.53,479.89 L567.37,481.29 L566.20,482.71Z" stroke="none" fill="#c5c5c5" stroke-width="0.7" fill-opacity="0.95"/>
<path d="M566.20,475.58 L567.37,474.26 L568.53,472.46 L569.70,470.25 L570.86,467.72 L572.03,464.96 L573.19,461.91 L574.36,458.08 L575.52,453.71 L576.69,449.11 L577.85,444.18 L579.02,438.69 L580.18,433.22 L581.35,428.39 L582.51,423.96 L583.68,419.79 L584.84,416.25 L586.01,413.64 L587.17,411.55 L588.34,409.81 L589.50,408.40 L590.67,407.28 L591.83,406.24 L593.00,405.29 L594.16,404.43 L595.33,403.67 L596.49,403.03 L597.66,402.51 L598.82,402.13 L599.99,401.84 L601.15,401.61 L602.32,401.41 L603.48,401.23 L604.65,401.07 L605.81,400.90 L606.98,400.71 L608.14,400.49 L609.31,400.26 L610.47,400.02 L611.64,399.78 L612.80,399.55 L613.97,399.32 L615.13,399.10 L616.30,398.91 L617.46,398.73 L618.63,398.57 L619.79,398.41 L620.96,398.26 L622.12,398.11 L623.29,397.96 L624.45,397.80 L625.62,397.64 L626.78,397.49 L627.95,397.33 L629.11,397.18 L630.28,397.03 L631.44,396.88 L632.61,396.73 L633.77,396.58 L634.94,396.43 L636.10,396.28 L637.27,396.12 L638.43,395.96 L639.60,395.80 L640.76,395.64 L641.93,395.47 L643.09,395.30 L644.26,395.12 L645.42,394.93 L646.59,394.74 L647.75,394.54 L648.92,394.33 L650.08,394.11 L651.25,393.89 L652.41,393.66 L653.58,393.43 L654.74,393.19 L655.91,392.94 L657.07,392.70 L658.24,392.44 L658.24,398.51 L657.07,398.54 L655.91,398.57 L654.74,398.61 L653.58,398.66 L652.41,398.71 L651.25,398.77 L650.08,398.84 L648.92,398.91 L647.75,398.99 L646.59,399.06 L645.42,399.15 L644.26,399.24 L643.09,399.34 L641.93,399.45 L640.76,399.57 L639.60,399.70 L638.43,399.85 L637.27,399.99 L636.10,400.15 L634.94,400.32 L633.77,400.49 L632.61,400.67 L631.44,400.86 L630.28,401.05 L629.11,401.24 L627.95,401.44 L626.78,401.65 L625.62,401.85 L624.45,402.07 L623.29,402.29 L622.12,402.54 L620.96,402.80 L619.79,403.08 L618.63,403.38 L617.46,403.70 L616.30,404.02 L615.13,404.37 L613.97,404.72 L612.80,405.09 L611.64,405.49 L610.47,405.93 L609.31,406.41 L608.14,406.94 L606.98,407.53 L605.81,408.25 L604.65,409.10 L603.48,410.04 L602.32,411.07 L601.15,412.14 L599.99,413.25 L598.82,414.36 L597.66,415.48 L596.49,416.64 L595.33,417.84 L594.16,419.10 L593.00,420.43 L591.83,421.85 L590.67,423.36 L589.50,424.99 L588.34,426.82 L587.17,428.86 L586.01,431.08 L584.84,433.47 L583.68,436.08 L582.51,438.96 L581.35,442.15 L580.18,445.90 L579.02,450.25 L577.85,454.81 L576.69,459.21 L575.52,463.64 L574.36,468.08 L573.19,472.22 L572.03,475.83 L570.86,479.20 L569.70,482.36 L568.53,485.29 L567.37,487.95 L566.20,490.29Z" stroke="none" fill="#8c8c8c" stroke-width="0.7" fill-opacity="0.95"/>
<path d="M566.20,473.60 L567.37,472.99 L568.53,472.37 L569.70,471.76 L570.86,471.14 L572.03,470.51 L573.19,469.89 L574.36,469.26 L575.52,468.63 L576.69,468.00 L577.85,467.36 L579.02,466.71 L580.18,466.06 L581.35,465.41 L582.51,464.76 L583.68,464.12 L584.84,463.49 L586.01,462.88 L587.17,462.29 L588.34,461.70 L589.50,461.13 L590.67,460.57 L591.83,460.01 L593.00,459.45 L594.16,458.89 L595.33,458.33 L596.49,457.76 L597.66,457.19 L598.82,456.61 L599.99,456.03 L601.15,455.45 L602.32,454.87 L603.48,454.31 L604.65,453.75 L605.81,453.21 L606.98,452.68 L608.14,452.17 L609.31,451.66 L610.47,451.17 L611.64,450.68 L612.80,450.19 L613.97,449.70 L615.13,449.22 L616.30,448.73 L617.46,448.23 L618.63,447.73 L619.79,447.23 L620.96,446.73 L622.12,446.24 L623.29,445.77 L624.45,445.31 L625.62,444.88 L626.78,444.48 L627.95,444.08 L629.11,443.70 L630.28,443.34 L631.44,442.98 L632.61,442.64 L633.77,442.31 L634.94,441.99 L636.10,441.68 L637.27,441.38 L638.43,441.10 L639.60,440.82 L640.76,440.55 L641.93,440.29 L643.09,440.04 L644.26,439.79 L645.42,439.55 L646.59,439.31 L647.75,439.08 L648.92,438.85 L650.08,438.62 L651.25,438.40 L652.41,438.19 L653.58,437.98 L654.74,437.77 L655.91,437.58 L657.07,437.38 L658.24,437.20" stroke="#c4c4c4" fill="none" stroke-width="0.8" stroke-linejoin="round"/>
<path d="M566.20,474.36 L567.37,473.09 L568.53,471.82 L569.70,470.54 L570.86,469.27 L572.03,467.99 L573.19,466.70 L574.36,465.42 L575.52,464.14 L576.69,462.84 L577.85,461.52 L579.02,460.17 L580.18,458.81 L581.35,457.46 L582.51,456.14 L583.68,454.85 L584.84,453.62 L586.01,452.46 L587.17,451.36 L588.34,450.30 L589.50,449.28 L590.67,448.28 L591.83,447.32 L593.00,446.38 L594.16,445.47 L595.33,444.57 L596.49,443.69 L597.66,442.83 L598.82,441.99 L599.99,441.18 L601.15,440.38 L602.32,439.59 L603.48,438.82 L604.65,438.06 L605.81,437.32 L606.98,436.58 L608.14,435.85 L609.31,435.13 L610.47,434.42 L611.64,433.73 L612.80,433.05 L613.97,432.38 L615.13,431.73 L616.30,431.09 L617.46,430.47 L618.63,429.85 L619.79,429.25 L620.96,428.66 L622.12,428.08 L623.29,427.51 L624.45,426.95 L625.62,426.40 L626.78,425.87 L627.95,425.34 L629.11,424.82 L630.28,424.31 L631.44,423.81 L632.61,423.32 L633.77,422.85 L634.94,422.38 L636.10,421.93 L637.27,421.48 L638.43,421.05 L639.60,420.62 L640.76,420.20 L641.93,419.80 L643.09,419.40 L644.26,419.02 L645.42,418.65 L646.59,418.30 L647.75,417.95 L648.92,417.61 L650.08,417.27 L651.25,416.95 L652.41,416.63 L653.58,416.33 L654.74,416.03 L655.91,415.74 L657.07,415.46 L658.24,415.20" stroke="#8a8a8a" fill="none" stroke-width="0.8" stroke-linejoin="round"/>
<path d="M566.20,483.16 L567.37,481.27 L568.53,478.99 L569.70,476.38 L570.86,473.51 L572.03,470.41 L573.19,467.05 L574.36,463.08 L575.52,458.72 L576.69,454.23 L577.85,449.59 L579.02,444.60 L580.18,439.74 L581.35,435.51 L582.51,431.80 L583.68,428.41 L584.84,425.37 L586.01,422.73 L587.17,420.32 L588.34,418.16 L589.50,416.34 L590.67,414.86 L591.83,413.54 L593.00,412.32 L594.16,411.22 L595.33,410.21 L596.49,409.30 L597.66,408.49 L598.82,407.76 L599.99,407.10 L601.15,406.50 L602.32,405.95 L603.48,405.45 L604.65,404.98 L605.81,404.54 L606.98,404.12 L608.14,403.72 L609.31,403.34 L610.47,402.98 L611.64,402.64 L612.80,402.32 L613.97,402.02 L615.13,401.74 L616.30,401.47 L617.46,401.22 L618.63,400.98 L619.79,400.75 L620.96,400.53 L622.12,400.33 L623.29,400.13 L624.45,399.93 L625.62,399.75 L626.78,399.56 L627.95,399.39 L629.11,399.21 L630.28,399.04 L631.44,398.88 L632.61,398.71 L633.77,398.55 L634.94,398.40 L636.10,398.24 L637.27,398.09 L638.43,397.94 L639.60,397.79 L640.76,397.64 L641.93,397.49 L643.09,397.34 L644.26,397.19 L645.42,397.04 L646.59,396.89 L647.75,396.75 L648.92,396.60 L650.08,396.46 L651.25,396.31 L652.41,396.17 L653.58,396.03 L654.74,395.89 L655.91,395.75 L657.07,395.61 L658.24,395.48" stroke="#222222" fill="none" stroke-width="1.25" stroke-linejoin="round"/>
</g>
<line x1="559.50" y1="389.10" x2="559.50" y2="495.90" stroke="#2a2a2a" stroke-width="0.8" />
<line x1="559.10" y1="495.50" x2="666.20" y2="495.50" stroke="#2a2a2a" stroke-width="0.8" />
<line x1="556.90" y1="495.60" x2="559.50" y2="495.60" stroke="#2a2a2a" stroke-width="0.8" />
<text x="554.80" y="498.80" font-size="8.9" text-anchor="end" fill="#231f20" >0.3</text>
<line x1="556.90" y1="465.26" x2="559.50" y2="465.26" stroke="#2a2a2a" stroke-width="0.8" />
<text x="554.80" y="468.46" font-size="8.9" text-anchor="end" fill="#231f20" >0.5</text>
<line x1="556.90" y1="434.92" x2="559.50" y2="434.92" stroke="#2a2a2a" stroke-width="0.8" />
<text x="554.80" y="438.12" font-size="8.9" text-anchor="end" fill="#231f20" >0.7</text>
<line x1="556.90" y1="404.58" x2="559.50" y2="404.58" stroke="#2a2a2a" stroke-width="0.8" />
<text x="554.80" y="407.78" font-size="8.9" text-anchor="end" fill="#231f20" >0.9</text>
<line x1="566.20" y1="495.50" x2="566.20" y2="498.10" stroke="#2a2a2a" stroke-width="0.8" />
<text x="566.20" y="505.70" font-size="8.9" text-anchor="middle" fill="#231f20" >0.0</text>
<line x1="586.10" y1="495.50" x2="586.10" y2="498.10" stroke="#2a2a2a" stroke-width="0.8" />
<text x="586.10" y="505.70" font-size="8.9" text-anchor="middle" fill="#231f20" >0.2</text>
<line x1="606.00" y1="495.50" x2="606.00" y2="498.10" stroke="#2a2a2a" stroke-width="0.8" />
<text x="606.00" y="505.70" font-size="8.9" text-anchor="middle" fill="#231f20" >0.4</text>
<line x1="625.90" y1="495.50" x2="625.90" y2="498.10" stroke="#2a2a2a" stroke-width="0.8" />
<text x="625.90" y="505.70" font-size="8.9" text-anchor="middle" fill="#231f20" >0.6</text>
<line x1="645.80" y1="495.50" x2="645.80" y2="498.10" stroke="#2a2a2a" stroke-width="0.8" />
<text x="645.80" y="505.70" font-size="8.9" text-anchor="middle" fill="#231f20" >0.8</text>
<line x1="665.70" y1="495.50" x2="665.70" y2="498.10" stroke="#2a2a2a" stroke-width="0.8" />
<text x="665.70" y="505.70" font-size="8.9" text-anchor="middle" fill="#231f20" >1.0</text>
<text x="612.50" y="517.00" font-size="9.4" text-anchor="middle" fill="#231f20" >Random dot motion coherence</text>
<text x="536.80" y="444.70" font-size="9.4" text-anchor="middle" fill="#231f20" transform="rotate(-90 536.80 444.70)" >Frac. correct target choice</text>
<text x="628.50" y="469.40" font-size="6.9" fill="#222222" textLength="32.0" lengthAdjust="spacingAndGlyphs" >AUC=0.76</text>
<text x="628.50" y="478.90" font-size="6.9" fill="#9a9a9a" textLength="32.0" lengthAdjust="spacingAndGlyphs" >AUC=0.62</text>
<text x="628.50" y="487.60" font-size="6.9" fill="#cfcfcf" textLength="32.0" lengthAdjust="spacingAndGlyphs" >AUC=0.52</text>
<text x="353.00" y="549.60" font-size="20.5" fill="#111" font-weight="bold" >j</text>
<text x="526.40" y="540.80" font-size="10.2" text-anchor="middle" fill="#111" textLength="83.0" lengthAdjust="spacingAndGlyphs" >Same cue sparsity</text>
<text x="526.00" y="553.70" font-size="9.8" text-anchor="middle" fill="#111" textLength="77.0" lengthAdjust="spacingAndGlyphs" >(cue sparsity=0.2)</text>
<rect x="425.00" y="546.40" width="32.00" height="14.00" rx="5.2" fill="#dce4e5"/>
<text x="441.00" y="557.07" font-size="10.2" text-anchor="middle" fill="#231f20" >CAC</text>
<rect x="596.25" y="546.40" width="31.50" height="14.00" rx="5.2" fill="#dce4e5"/>
<text x="612.00" y="557.07" font-size="10.2" text-anchor="middle" fill="#231f20" >RDM</text>
<clipPath id="pc5"><rect x="391.50" y="561.00" width="105.50" height="106.50"/></clipPath>
<g clip-path="url(#pc5)">
<path d="M397.80,652.03 L398.98,651.15 L400.17,650.22 L401.35,649.24 L402.53,648.22 L403.72,647.16 L404.90,646.05 L406.08,644.91 L407.27,643.74 L408.45,642.53 L409.64,641.28 L410.82,639.96 L412.00,638.58 L413.19,637.14 L414.37,635.66 L415.55,634.14 L416.74,632.59 L417.92,631.03 L419.10,629.45 L420.29,627.86 L421.47,626.22 L422.65,624.52 L423.84,622.78 L425.02,621.02 L426.21,619.25 L427.39,617.49 L428.57,615.75 L429.76,614.05 L430.94,612.40 L432.12,610.75 L433.31,609.10 L434.49,607.44 L435.67,605.81 L436.86,604.20 L438.04,602.65 L439.22,601.15 L440.41,599.73 L441.59,598.40 L442.77,597.15 L443.96,595.93 L445.14,594.76 L446.33,593.62 L447.51,592.53 L448.69,591.49 L449.88,590.50 L451.06,589.57 L452.24,588.70 L453.43,587.89 L454.61,587.13 L455.79,586.41 L456.98,585.72 L458.16,585.06 L459.34,584.43 L460.53,583.83 L461.71,583.24 L462.89,582.67 L464.08,582.12 L465.26,581.57 L466.45,581.04 L467.63,580.52 L468.81,580.01 L470.00,579.52 L471.18,579.04 L472.36,578.58 L473.55,578.13 L474.73,577.70 L475.91,577.30 L477.10,576.91 L478.28,576.53 L479.46,576.17 L480.65,575.81 L481.83,575.46 L483.02,575.13 L484.20,574.80 L485.38,574.49 L486.57,574.19 L487.75,573.91 L488.93,573.64 L490.12,573.38 L491.30,573.15 L491.30,583.01 L490.12,583.12 L488.93,583.27 L487.75,583.45 L486.57,583.65 L485.38,583.89 L484.20,584.14 L483.02,584.41 L481.83,584.71 L480.65,585.02 L479.46,585.34 L478.28,585.67 L477.10,586.01 L475.91,586.38 L474.73,586.80 L473.55,587.26 L472.36,587.77 L471.18,588.31 L470.00,588.88 L468.81,589.47 L467.63,590.08 L466.45,590.70 L465.26,591.33 L464.08,591.96 L462.89,592.59 L461.71,593.24 L460.53,593.90 L459.34,594.59 L458.16,595.30 L456.98,596.04 L455.79,596.81 L454.61,597.62 L453.43,598.47 L452.24,599.36 L451.06,600.33 L449.88,601.35 L448.69,602.44 L447.51,603.57 L446.33,604.75 L445.14,605.97 L443.96,607.22 L442.77,608.49 L441.59,609.78 L440.41,611.12 L439.22,612.52 L438.04,613.96 L436.86,615.44 L435.67,616.97 L434.49,618.52 L433.31,620.10 L432.12,621.70 L430.94,623.32 L429.76,624.97 L428.57,626.69 L427.39,628.47 L426.21,630.28 L425.02,632.10 L423.84,633.92 L422.65,635.73 L421.47,637.49 L420.29,639.21 L419.10,640.86 L417.92,642.48 L416.74,644.09 L415.55,645.67 L414.37,647.22 L413.19,648.76 L412.00,650.28 L410.82,651.78 L409.64,653.27 L408.45,654.74 L407.27,656.19 L406.08,657.62 L404.90,659.04 L403.72,660.45 L402.53,661.83 L401.35,663.20 L400.17,664.55 L398.98,665.89 L397.80,667.20Z" stroke="none" fill="#b9b9b9" stroke-width="0.7" fill-opacity="0.9"/>
<path d="M397.80,639.14 L398.98,639.14 L400.17,639.14 L401.35,639.14 L402.53,639.14 L403.72,639.14 L404.90,639.14 L406.08,639.14 L407.27,639.14 L408.45,639.14 L409.64,639.14 L410.82,639.14 L412.00,639.14 L413.19,639.14 L414.37,639.14 L415.55,639.14 L416.74,639.14 L417.92,639.14 L419.10,639.14 L420.29,639.13 L421.47,639.13 L422.65,639.11 L423.84,639.09 L425.02,639.06 L426.21,639.02 L427.39,638.97 L428.57,638.92 L429.76,638.87 L430.94,638.80 L432.12,638.73 L433.31,638.66 L434.49,638.58 L435.67,638.50 L436.86,638.42 L438.04,638.32 L439.22,638.19 L440.41,638.02 L441.59,637.82 L442.77,637.58 L443.96,637.31 L445.14,637.02 L446.33,636.69 L447.51,636.34 L448.69,635.98 L449.88,635.59 L451.06,635.18 L452.24,634.67 L453.43,634.06 L454.61,633.37 L455.79,632.60 L456.98,631.79 L458.16,630.94 L459.34,630.07 L460.53,629.14 L461.71,628.11 L462.89,626.99 L464.08,625.81 L465.26,624.61 L466.45,623.41 L467.63,622.24 L468.81,621.11 L470.00,619.99 L471.18,618.86 L472.36,617.74 L473.55,616.62 L474.73,615.50 L475.91,614.38 L477.10,613.25 L478.28,612.13 L479.46,611.01 L480.65,609.90 L481.83,608.78 L483.02,607.66 L484.20,606.53 L485.38,605.40 L486.57,604.27 L487.75,603.13 L488.93,601.99 L490.12,600.84 L491.30,599.69 L491.30,619.41 L490.12,620.56 L488.93,621.71 L487.75,622.85 L486.57,623.99 L485.38,625.12 L484.20,626.26 L483.02,627.40 L481.83,628.54 L480.65,629.67 L479.46,630.79 L478.28,631.90 L477.10,632.98 L475.91,634.05 L474.73,635.12 L473.55,636.18 L472.36,637.22 L471.18,638.24 L470.00,639.23 L468.81,640.18 L467.63,641.09 L466.45,641.99 L465.26,642.88 L464.08,643.75 L462.89,644.58 L461.71,645.36 L460.53,646.09 L459.34,646.75 L458.16,647.37 L456.98,647.98 L455.79,648.55 L454.61,649.09 L453.43,649.59 L452.24,650.02 L451.06,650.39 L449.88,650.69 L448.69,650.97 L447.51,651.22 L446.33,651.46 L445.14,651.68 L443.96,651.88 L442.77,652.07 L441.59,652.25 L440.41,652.41 L439.22,652.57 L438.04,652.71 L436.86,652.85 L435.67,652.98 L434.49,653.10 L433.31,653.21 L432.12,653.32 L430.94,653.42 L429.76,653.52 L428.57,653.61 L427.39,653.70 L426.21,653.79 L425.02,653.88 L423.84,653.98 L422.65,654.07 L421.47,654.16 L420.29,654.26 L419.10,654.37 L417.92,654.47 L416.74,654.58 L415.55,654.68 L414.37,654.78 L413.19,654.89 L412.00,655.00 L410.82,655.10 L409.64,655.21 L408.45,655.31 L407.27,655.42 L406.08,655.53 L404.90,655.63 L403.72,655.74 L402.53,655.85 L401.35,655.95 L400.17,656.06 L398.98,656.17 L397.80,656.28Z" stroke="none" fill="#8d8fcf" stroke-width="0.7" fill-opacity="0.85"/>
<path d="M397.80,658.40 L398.98,657.47 L400.17,656.50 L401.35,655.48 L402.53,654.43 L403.72,653.33 L404.90,652.20 L406.08,651.03 L407.27,649.84 L408.45,648.61 L409.64,647.34 L410.82,646.01 L412.00,644.63 L413.19,643.19 L414.37,641.72 L415.55,640.21 L416.74,638.67 L417.92,637.10 L419.10,635.52 L420.29,633.92 L421.47,632.25 L422.65,630.53 L423.84,628.76 L425.02,626.96 L426.21,625.15 L427.39,623.35 L428.57,621.57 L429.76,619.84 L430.94,618.16 L432.12,616.49 L433.31,614.82 L434.49,613.16 L435.67,611.51 L436.86,609.89 L438.04,608.32 L439.22,606.81 L440.41,605.37 L441.59,604.02 L442.77,602.74 L443.96,601.50 L445.14,600.31 L446.33,599.15 L447.51,598.04 L448.69,596.97 L449.88,595.95 L451.06,594.97 L452.24,594.04 L453.43,593.16 L454.61,592.32 L455.79,591.50 L456.98,590.71 L458.16,589.95 L459.34,589.23 L460.53,588.54 L461.71,587.88 L462.89,587.25 L464.08,586.66 L465.26,586.09 L466.45,585.54 L467.63,585.01 L468.81,584.50 L470.00,584.00 L471.18,583.53 L472.36,583.07 L473.55,582.64 L474.73,582.22 L475.91,581.83 L477.10,581.46 L478.28,581.10 L479.46,580.76 L480.65,580.42 L481.83,580.09 L483.02,579.78 L484.20,579.48 L485.38,579.19 L486.57,578.92 L487.75,578.66 L488.93,578.42 L490.12,578.20 L491.30,578.00" stroke="#1a1a1a" fill="none" stroke-width="1.25" stroke-linejoin="round"/>
<path d="M397.80,647.48 L398.98,647.48 L400.17,647.47 L401.35,647.47 L402.53,647.46 L403.72,647.45 L404.90,647.44 L406.08,647.43 L407.27,647.42 L408.45,647.40 L409.64,647.38 L410.82,647.36 L412.00,647.34 L413.19,647.32 L414.37,647.30 L415.55,647.27 L416.74,647.25 L417.92,647.22 L419.10,647.19 L420.29,647.16 L421.47,647.12 L422.65,647.07 L423.84,647.01 L425.02,646.94 L426.21,646.85 L427.39,646.76 L428.57,646.66 L429.76,646.55 L430.94,646.43 L432.12,646.30 L433.31,646.17 L434.49,646.03 L435.67,645.88 L436.86,645.73 L438.04,645.57 L439.22,645.38 L440.41,645.16 L441.59,644.91 L442.77,644.63 L443.96,644.33 L445.14,644.00 L446.33,643.64 L447.51,643.26 L448.69,642.86 L449.88,642.44 L451.06,641.99 L452.24,641.44 L453.43,640.80 L454.61,640.09 L455.79,639.33 L456.98,638.53 L458.16,637.71 L459.34,636.90 L460.53,636.07 L461.71,635.21 L462.89,634.31 L464.08,633.38 L465.26,632.43 L466.45,631.47 L467.63,630.50 L468.81,629.53 L470.00,628.55 L471.18,627.55 L472.36,626.54 L473.55,625.51 L474.73,624.48 L475.91,623.42 L477.10,622.36 L478.28,621.31 L479.46,620.26 L480.65,619.22 L481.83,618.14 L483.02,617.02 L484.20,615.84 L485.38,614.57 L486.57,613.20 L487.75,611.68 L488.93,610.05 L490.12,608.32 L491.30,606.52" stroke="#3350ac" fill="none" stroke-width="0.95" stroke-linejoin="round"/>
</g>
<line x1="391.50" y1="561.00" x2="391.50" y2="667.90" stroke="#2a2a2a" stroke-width="0.8" />
<line x1="391.10" y1="667.50" x2="497.00" y2="667.50" stroke="#2a2a2a" stroke-width="0.8" />
<line x1="388.90" y1="667.20" x2="391.50" y2="667.20" stroke="#2a2a2a" stroke-width="0.8" />
<text x="386.70" y="670.40" font-size="8.9" text-anchor="end" fill="#231f20" >0.3</text>
<line x1="388.90" y1="636.86" x2="391.50" y2="636.86" stroke="#2a2a2a" stroke-width="0.8" />
<text x="386.70" y="640.06" font-size="8.9" text-anchor="end" fill="#231f20" >0.5</text>
<line x1="388.90" y1="606.52" x2="391.50" y2="606.52" stroke="#2a2a2a" stroke-width="0.8" />
<text x="386.70" y="609.72" font-size="8.9" text-anchor="end" fill="#231f20" >0.7</text>
<line x1="388.90" y1="576.18" x2="391.50" y2="576.18" stroke="#2a2a2a" stroke-width="0.8" />
<text x="386.70" y="579.38" font-size="8.9" text-anchor="end" fill="#231f20" >0.9</text>
<line x1="397.80" y1="667.50" x2="397.80" y2="670.10" stroke="#2a2a2a" stroke-width="0.8" />
<text x="397.80" y="676.50" font-size="8.9" text-anchor="middle" fill="#231f20" >0.5</text>
<line x1="419.80" y1="667.50" x2="419.80" y2="670.10" stroke="#2a2a2a" stroke-width="0.8" />
<text x="419.80" y="676.50" font-size="8.9" text-anchor="middle" fill="#231f20" >0.6</text>
<line x1="441.80" y1="667.50" x2="441.80" y2="670.10" stroke="#2a2a2a" stroke-width="0.8" />
<text x="441.80" y="676.50" font-size="8.9" text-anchor="middle" fill="#231f20" >0.7</text>
<line x1="463.80" y1="667.50" x2="463.80" y2="670.10" stroke="#2a2a2a" stroke-width="0.8" />
<text x="463.80" y="676.50" font-size="8.9" text-anchor="middle" fill="#231f20" >0.8</text>
<line x1="485.80" y1="667.50" x2="485.80" y2="670.10" stroke="#2a2a2a" stroke-width="0.8" />
<text x="485.80" y="676.50" font-size="8.9" text-anchor="middle" fill="#231f20" >0.9</text>
<text x="440.00" y="687.60" font-size="9.4" text-anchor="middle" fill="#231f20" >LP/HP cue congruence</text>
<text x="370.80" y="616.65" font-size="9.4" text-anchor="middle" fill="#231f20" transform="rotate(-90 370.80 616.65)" >Frac. correct target choice</text>
<text x="397.00" y="572.20" font-size="7.8" fill="#231f20" >p=0.00016</text>
<text x="394.50" y="592.30" font-size="6.9" fill="#231f20" textLength="32.5" lengthAdjust="spacingAndGlyphs" >AUC=0.28</text>
<text x="394.50" y="601.60" font-size="6.9" fill="#3350ac" textLength="32.5" lengthAdjust="spacingAndGlyphs" >AUC=0.19</text>
<line x1="459.50" y1="652.50" x2="472.00" y2="652.50" stroke="#1a1a1a" stroke-width="1.0" />
<text x="475.80" y="654.70" font-size="8.1" fill="#231f20" >PFC-MD</text>
<line x1="459.50" y1="661.30" x2="472.00" y2="661.30" stroke="#8d8fcf" stroke-width="2.2" />
<line x1="459.50" y1="661.30" x2="472.00" y2="661.30" stroke="#3350ac" stroke-width="0.9" />
<text x="475.80" y="664.00" font-size="8.1" fill="#231f20" >PFC alone</text>
<clipPath id="pc6"><rect x="559.50" y="561.00" width="106.70" height="106.50"/></clipPath>
<g clip-path="url(#pc6)">
<path d="M566.50,643.69 L567.67,643.50 L568.83,643.23 L570.00,642.87 L571.16,642.44 L572.33,641.96 L573.49,641.42 L574.66,640.84 L575.82,640.23 L576.99,639.59 L578.15,638.84 L579.32,637.97 L580.48,636.99 L581.65,635.91 L582.81,634.75 L583.98,633.52 L585.14,632.24 L586.31,630.90 L587.47,629.45 L588.64,627.78 L589.80,625.96 L590.97,624.02 L592.13,622.01 L593.30,619.98 L594.46,617.97 L595.63,616.02 L596.79,614.17 L597.96,612.30 L599.12,610.41 L600.29,608.50 L601.45,606.63 L602.62,604.81 L603.78,603.06 L604.95,601.43 L606.11,599.92 L607.28,598.54 L608.44,597.23 L609.61,595.98 L610.77,594.78 L611.94,593.64 L613.10,592.55 L614.27,591.50 L615.43,590.51 L616.60,589.55 L617.76,588.64 L618.93,587.76 L620.09,586.92 L621.26,586.11 L622.42,585.33 L623.59,584.59 L624.75,583.87 L625.92,583.17 L627.08,582.50 L628.25,581.84 L629.41,581.21 L630.58,580.59 L631.74,580.00 L632.91,579.43 L634.07,578.89 L635.24,578.38 L636.40,577.90 L637.57,577.46 L638.73,577.05 L639.90,576.66 L641.06,576.29 L642.23,575.92 L643.39,575.56 L644.56,575.18 L645.72,574.79 L646.89,574.39 L648.05,573.98 L649.22,573.56 L650.38,573.14 L651.55,572.72 L652.71,572.30 L653.88,571.87 L655.04,571.43 L656.21,571.00 L657.37,570.56 L658.54,570.11 L658.54,581.49 L657.37,581.63 L656.21,581.79 L655.04,581.97 L653.88,582.17 L652.71,582.37 L651.55,582.60 L650.38,582.83 L649.22,583.07 L648.05,583.32 L646.89,583.58 L645.72,583.85 L644.56,584.14 L643.39,584.44 L642.23,584.76 L641.06,585.11 L639.90,585.47 L638.73,585.86 L637.57,586.27 L636.40,586.70 L635.24,587.17 L634.07,587.68 L632.91,588.23 L631.74,588.82 L630.58,589.45 L629.41,590.12 L628.25,590.81 L627.08,591.54 L625.92,592.30 L624.75,593.10 L623.59,593.97 L622.42,594.89 L621.26,595.86 L620.09,596.87 L618.93,597.93 L617.76,599.01 L616.60,600.12 L615.43,601.25 L614.27,602.43 L613.10,603.65 L611.94,604.91 L610.77,606.23 L609.61,607.60 L608.44,609.03 L607.28,610.53 L606.11,612.09 L604.95,613.79 L603.78,615.63 L602.62,617.58 L601.45,619.60 L600.29,621.67 L599.12,623.75 L597.96,625.80 L596.79,627.79 L595.63,629.72 L594.46,631.70 L593.30,633.71 L592.13,635.71 L590.97,637.68 L589.80,639.58 L588.64,641.39 L587.47,643.06 L586.31,644.56 L585.14,645.95 L583.98,647.28 L582.81,648.54 L581.65,649.74 L580.48,650.87 L579.32,651.95 L578.15,652.95 L576.99,653.89 L575.82,654.78 L574.66,655.63 L573.49,656.44 L572.33,657.22 L571.16,657.95 L570.00,658.64 L568.83,659.27 L567.67,659.85 L566.50,660.37Z" stroke="none" fill="#b9b9b9" stroke-width="0.7" fill-opacity="0.9"/>
<path d="M566.50,639.14 L567.67,638.98 L568.83,638.79 L570.00,638.57 L571.16,638.31 L572.33,638.03 L573.49,637.72 L574.66,637.39 L575.82,637.05 L576.99,636.69 L578.15,636.28 L579.32,635.82 L580.48,635.32 L581.65,634.78 L582.81,634.21 L583.98,633.61 L585.14,632.99 L586.31,632.36 L587.47,631.70 L588.64,630.99 L589.80,630.23 L590.97,629.44 L592.13,628.61 L593.30,627.77 L594.46,626.90 L595.63,626.03 L596.79,625.15 L597.96,624.22 L599.12,623.26 L600.29,622.27 L601.45,621.26 L602.62,620.24 L603.78,619.24 L604.95,618.25 L606.11,617.29 L607.28,616.35 L608.44,615.41 L609.61,614.47 L610.77,613.53 L611.94,612.62 L613.10,611.73 L614.27,610.88 L615.43,610.08 L616.60,609.34 L617.76,608.65 L618.93,608.01 L620.09,607.40 L621.26,606.81 L622.42,606.23 L623.59,605.64 L624.75,605.04 L625.92,604.40 L627.08,603.73 L628.25,603.04 L629.41,602.32 L630.58,601.59 L631.74,600.85 L632.91,600.12 L634.07,599.40 L635.24,598.71 L636.40,598.03 L637.57,597.37 L638.73,596.72 L639.90,596.07 L641.06,595.44 L642.23,594.82 L643.39,594.21 L644.56,593.62 L645.72,593.05 L646.89,592.49 L648.05,591.95 L649.22,591.42 L650.38,590.89 L651.55,590.38 L652.71,589.87 L653.88,589.38 L655.04,588.91 L656.21,588.44 L657.37,587.99 L658.54,587.56 L658.54,599.69 L657.37,600.17 L656.21,600.68 L655.04,601.24 L653.88,601.83 L652.71,602.45 L651.55,603.11 L650.38,603.79 L649.22,604.51 L648.05,605.24 L646.89,606.00 L645.72,606.78 L644.56,607.61 L643.39,608.49 L642.23,609.43 L641.06,610.41 L639.90,611.43 L638.73,612.47 L637.57,613.54 L636.40,614.63 L635.24,615.75 L634.07,616.96 L632.91,618.23 L631.74,619.53 L630.58,620.85 L629.41,622.15 L628.25,623.42 L627.08,624.63 L625.92,625.75 L624.75,626.83 L623.59,627.89 L622.42,628.93 L621.26,629.94 L620.09,630.92 L618.93,631.85 L617.76,632.74 L616.60,633.59 L615.43,634.38 L614.27,635.14 L613.10,635.87 L611.94,636.58 L610.77,637.25 L609.61,637.90 L608.44,638.52 L607.28,639.11 L606.11,639.68 L604.95,640.22 L603.78,640.74 L602.62,641.24 L601.45,641.72 L600.29,642.18 L599.12,642.63 L597.96,643.08 L596.79,643.52 L595.63,643.96 L594.46,644.38 L593.30,644.78 L592.13,645.18 L590.97,645.57 L589.80,645.96 L588.64,646.36 L587.47,646.78 L586.31,647.21 L585.14,647.67 L583.98,648.16 L582.81,648.66 L581.65,649.16 L580.48,649.67 L579.32,650.16 L578.15,650.64 L576.99,651.08 L575.82,651.49 L574.66,651.89 L573.49,652.27 L572.33,652.65 L571.16,653.01 L570.00,653.35 L568.83,653.69 L567.67,654.00 L566.50,654.31Z" stroke="none" fill="#8d8fcf" stroke-width="0.7" fill-opacity="0.85"/>
<path d="M566.50,652.03 L567.67,651.76 L568.83,651.40 L570.00,650.96 L571.16,650.45 L572.33,649.87 L573.49,649.24 L574.66,648.57 L575.82,647.87 L576.99,647.13 L578.15,646.28 L579.32,645.31 L580.48,644.23 L581.65,643.07 L582.81,641.82 L583.98,640.51 L585.14,639.14 L586.31,637.73 L587.47,636.23 L588.64,634.55 L589.80,632.73 L590.97,630.81 L592.13,628.83 L593.30,626.82 L594.46,624.82 L595.63,622.87 L596.79,620.98 L597.96,619.05 L599.12,617.08 L600.29,615.09 L601.45,613.12 L602.62,611.19 L603.78,609.34 L604.95,607.61 L606.11,606.01 L607.28,604.53 L608.44,603.13 L609.61,601.79 L610.77,600.50 L611.94,599.27 L613.10,598.10 L614.27,596.97 L615.43,595.88 L616.60,594.84 L617.76,593.82 L618.93,592.84 L620.09,591.89 L621.26,590.97 L622.42,590.10 L623.59,589.26 L624.75,588.47 L625.92,587.73 L627.08,587.03 L628.25,586.36 L629.41,585.72 L630.58,585.11 L631.74,584.52 L632.91,583.96 L634.07,583.43 L635.24,582.93 L636.40,582.45 L637.57,582.00 L638.73,581.58 L639.90,581.17 L641.06,580.78 L642.23,580.41 L643.39,580.04 L644.56,579.69 L645.72,579.33 L646.89,578.97 L648.05,578.62 L649.22,578.28 L650.38,577.94 L651.55,577.60 L652.71,577.27 L653.88,576.95 L655.04,576.63 L656.21,576.32 L657.37,576.02 L658.54,575.72" stroke="#1a1a1a" fill="none" stroke-width="1.25" stroke-linejoin="round"/>
<path d="M566.50,647.02 L567.67,646.74 L568.83,646.44 L570.00,646.13 L571.16,645.80 L572.33,645.45 L573.49,645.10 L574.66,644.73 L575.82,644.35 L576.99,643.96 L578.15,643.55 L579.32,643.12 L580.48,642.67 L581.65,642.21 L582.81,641.73 L583.98,641.24 L585.14,640.74 L586.31,640.24 L587.47,639.72 L588.64,639.20 L589.80,638.65 L590.97,638.10 L592.13,637.53 L593.30,636.95 L594.46,636.35 L595.63,635.73 L596.79,635.10 L597.96,634.45 L599.12,633.79 L600.29,633.10 L601.45,632.40 L602.62,631.68 L603.78,630.94 L604.95,630.18 L606.11,629.40 L607.28,628.60 L608.44,627.75 L609.61,626.88 L610.77,625.98 L611.94,625.07 L613.10,624.15 L614.27,623.23 L615.43,622.32 L616.60,621.43 L617.76,620.54 L618.93,619.67 L620.09,618.79 L621.26,617.92 L622.42,617.04 L623.59,616.15 L624.75,615.25 L625.92,614.33 L627.08,613.39 L628.25,612.41 L629.41,611.41 L630.58,610.40 L631.74,609.39 L632.91,608.39 L634.07,607.41 L635.24,606.47 L636.40,605.57 L637.57,604.69 L638.73,603.82 L639.90,602.97 L641.06,602.14 L642.23,601.33 L643.39,600.56 L644.56,599.83 L645.72,599.15 L646.89,598.51 L648.05,597.89 L649.22,597.28 L650.38,596.70 L651.55,596.13 L652.71,595.59 L653.88,595.08 L655.04,594.59 L656.21,594.14 L657.37,593.71 L658.54,593.32" stroke="#3350ac" fill="none" stroke-width="0.95" stroke-linejoin="round"/>
</g>
<line x1="559.50" y1="561.00" x2="559.50" y2="667.90" stroke="#2a2a2a" stroke-width="0.8" />
<line x1="559.10" y1="667.50" x2="666.20" y2="667.50" stroke="#2a2a2a" stroke-width="0.8" />
<line x1="556.90" y1="667.20" x2="559.50" y2="667.20" stroke="#2a2a2a" stroke-width="0.8" />
<text x="554.80" y="670.40" font-size="8.9" text-anchor="end" fill="#231f20" >0.3</text>
<line x1="556.90" y1="636.86" x2="559.50" y2="636.86" stroke="#2a2a2a" stroke-width="0.8" />
<text x="554.80" y="640.06" font-size="8.9" text-anchor="end" fill="#231f20" >0.5</text>
<line x1="556.90" y1="606.52" x2="559.50" y2="606.52" stroke="#2a2a2a" stroke-width="0.8" />
<text x="554.80" y="609.72" font-size="8.9" text-anchor="end" fill="#231f20" >0.7</text>
<line x1="556.90" y1="576.18" x2="559.50" y2="576.18" stroke="#2a2a2a" stroke-width="0.8" />
<text x="554.80" y="579.38" font-size="8.9" text-anchor="end" fill="#231f20" >0.9</text>
<line x1="566.50" y1="667.50" x2="566.50" y2="670.10" stroke="#2a2a2a" stroke-width="0.8" />
<text x="566.50" y="676.50" font-size="8.9" text-anchor="middle" fill="#231f20" >0.0</text>
<line x1="586.40" y1="667.50" x2="586.40" y2="670.10" stroke="#2a2a2a" stroke-width="0.8" />
<text x="586.40" y="676.50" font-size="8.9" text-anchor="middle" fill="#231f20" >0.2</text>
<line x1="606.30" y1="667.50" x2="606.30" y2="670.10" stroke="#2a2a2a" stroke-width="0.8" />
<text x="606.30" y="676.50" font-size="8.9" text-anchor="middle" fill="#231f20" >0.4</text>
<line x1="626.20" y1="667.50" x2="626.20" y2="670.10" stroke="#2a2a2a" stroke-width="0.8" />
<text x="626.20" y="676.50" font-size="8.9" text-anchor="middle" fill="#231f20" >0.6</text>
<line x1="646.10" y1="667.50" x2="646.10" y2="670.10" stroke="#2a2a2a" stroke-width="0.8" />
<text x="646.10" y="676.50" font-size="8.9" text-anchor="middle" fill="#231f20" >0.8</text>
<line x1="666.00" y1="667.50" x2="666.00" y2="670.10" stroke="#2a2a2a" stroke-width="0.8" />
<text x="666.00" y="676.50" font-size="8.9" text-anchor="middle" fill="#231f20" >1.0</text>
<text x="614.50" y="687.60" font-size="9.4" text-anchor="middle" fill="#231f20" >Random dot motion coherence</text>
<text x="536.80" y="616.65" font-size="9.4" text-anchor="middle" fill="#231f20" transform="rotate(-90 536.80 616.65)" >Frac. correct target choice</text>
<text x="566.00" y="573.80" font-size="7.8" fill="#231f20" >p=0.00007</text>
<text x="565.30" y="590.80" font-size="6.9" fill="#231f20" textLength="32.0" lengthAdjust="spacingAndGlyphs" >AUC=0.63</text>
<text x="565.30" y="600.60" font-size="6.9" fill="#3350ac" textLength="32.0" lengthAdjust="spacingAndGlyphs" >AUC=0.53</text>
</svg>
</body></html>
